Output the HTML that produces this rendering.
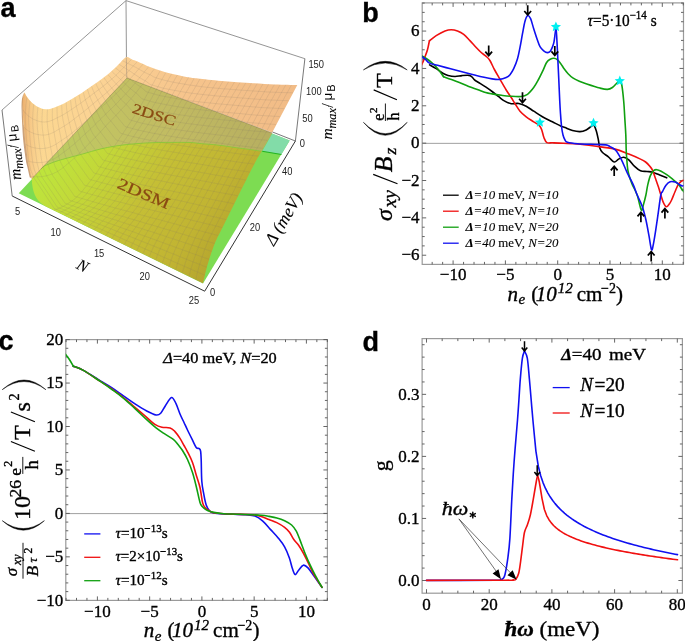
<!DOCTYPE html>
<html><head><meta charset="utf-8"><style>
html,body{margin:0;padding:0;background:#fff;width:685px;height:641px;overflow:hidden;}
svg{display:block;will-change:transform;}
text{stroke:#000;stroke-width:0.35px;paint-order:stroke;}
text.br{stroke:#8a4a12;stroke-width:0.2px;}
text.nb{stroke:none;}
text.th{stroke-width:0.12px;}
</style></head><body>
<svg width="685" height="641" viewBox="0 0 685 641">
<defs>
<linearGradient id="gOr" gradientUnits="userSpaceOnUse" x1="20" y1="100" x2="300" y2="110">
 <stop offset="0" stop-color="#fcd98f"/><stop offset="0.3" stop-color="#fbd294"/><stop offset="0.6" stop-color="#f6c48c"/><stop offset="1" stop-color="#f1bb86"/>
</linearGradient>
<linearGradient id="gOl" gradientUnits="userSpaceOnUse" x1="50" y1="160" x2="270" y2="120">
 <stop offset="0" stop-color="#bccc60"/><stop offset="0.3" stop-color="#c2c262"/><stop offset="0.6" stop-color="#c1ba62"/><stop offset="1" stop-color="#b6ae60"/>
</linearGradient>
<linearGradient id="gYe" gradientUnits="userSpaceOnUse" x1="45" y1="175" x2="205" y2="280">
 <stop offset="0" stop-color="#bee43c"/><stop offset="0.22" stop-color="#c3d738"/><stop offset="0.5" stop-color="#c5bf35"/><stop offset="0.8" stop-color="#c1b432"/><stop offset="1" stop-color="#b5a52e"/>
</linearGradient>
</defs>
<path d="M126,0.6 L2,110 M126,0.6 L304.9,58.7 M126,0.6 L126.6,78" stroke="#7a7a7a" stroke-width="0.8" fill="none"/>
<path d="M18.70,193.20 L203.00,283.50 L289.70,140.60 L127.00,78.00Z" fill="#7ddc52"/>
<path d="M272.20,133.40 L289.70,140.60 L281.50,154.30 L262.20,151.20Z" fill="#82dca8"/>
<path d="M262.2,151.3 L281.5,154.5" stroke="#22b422" stroke-width="1.1"/>
<defs><clipPath id="csurf"><path d="M24.50,92.50 C24.92,93.25 25.88,95.40 27.00,97.00 C28.12,98.60 29.53,100.52 31.20,102.10 C32.87,103.68 34.92,105.33 37.00,106.50 C39.08,107.67 41.53,108.68 43.70,109.10 C45.87,109.52 47.92,109.38 50.00,109.00 C52.08,108.62 53.87,107.72 56.20,106.80 C58.53,105.88 61.40,104.80 64.00,103.50 C66.60,102.20 69.13,100.58 71.80,99.00 C74.47,97.42 77.40,95.68 80.00,94.00 C82.60,92.32 84.07,91.18 87.40,88.90 C90.73,86.62 96.23,83.03 100.00,80.30 C103.77,77.57 107.00,75.05 110.00,72.50 C113.00,69.95 115.33,67.55 118.00,65.00 C120.67,62.45 123.67,58.12 126.00,57.20 C128.33,56.28 130.08,58.78 132.00,59.50 C133.92,60.22 134.50,60.25 137.50,61.50 C140.50,62.75 145.85,65.38 150.00,67.00 C154.15,68.62 158.23,69.95 162.40,71.20 C166.57,72.45 170.40,73.45 175.00,74.50 C179.60,75.55 185.83,76.80 190.00,77.50 C194.17,78.20 194.18,78.08 200.00,78.70 C205.82,79.32 216.58,80.50 224.90,81.20 C233.22,81.90 241.58,82.37 249.90,82.90 C258.22,83.43 266.90,84.07 274.80,84.40 C282.70,84.73 293.55,84.82 297.30,84.90 L272.2,132.6 L127,78 L31.8,178.7 C31.60,178.07 31.22,177.62 30.60,174.90 C29.98,172.18 28.93,167.60 28.10,162.40 C27.27,157.20 26.33,149.93 25.60,143.70 C24.87,137.47 24.17,130.62 23.70,125.00 C23.23,119.38 22.98,114.17 22.80,110.00 C22.62,105.83 22.32,102.92 22.60,100.00 C22.88,97.08 24.18,93.75 24.50,92.50Z"/><path d="M41.0,169.0 L127,78 L272.2,133 L261.7,151.3 C259.48,150.97 252.57,149.88 248.40,149.30 C244.23,148.72 240.60,148.35 236.70,147.80 C232.80,147.25 228.88,146.53 225.00,146.00 C221.12,145.47 217.28,144.98 213.40,144.60 C209.52,144.22 205.60,144.05 201.70,143.70 C197.80,143.35 194.78,142.72 190.00,142.50 C185.22,142.28 178.27,142.40 173.00,142.40 C167.73,142.40 163.27,142.38 158.40,142.50 C153.53,142.62 148.67,142.80 143.80,143.10 C138.93,143.40 134.07,143.78 129.20,144.30 C124.33,144.82 119.47,145.40 114.60,146.20 C109.73,147.00 105.33,147.80 100.00,149.10 C94.67,150.40 88.43,152.40 82.60,154.00 C76.77,155.60 69.27,157.53 65.00,158.70 C60.73,159.87 59.50,160.18 57.00,161.00 C54.50,161.82 52.17,162.72 50.00,163.60 C47.83,164.48 45.50,165.40 44.00,166.30 C42.50,167.20 41.50,168.55 41.00,169.00Z"/><path d="M41.00,169.00 C41.50,168.55 42.50,167.20 44.00,166.30 C45.50,165.40 47.83,164.48 50.00,163.60 C52.17,162.72 54.50,161.82 57.00,161.00 C59.50,160.18 60.73,159.87 65.00,158.70 C69.27,157.53 76.77,155.60 82.60,154.00 C88.43,152.40 94.67,150.40 100.00,149.10 C105.33,147.80 109.73,147.00 114.60,146.20 C119.47,145.40 124.33,144.82 129.20,144.30 C134.07,143.78 138.93,143.40 143.80,143.10 C148.67,142.80 153.53,142.62 158.40,142.50 C163.27,142.38 167.73,142.40 173.00,142.40 C178.27,142.40 185.22,142.28 190.00,142.50 C194.78,142.72 197.80,143.35 201.70,143.70 C205.60,144.05 209.52,144.22 213.40,144.60 C217.28,144.98 221.12,145.47 225.00,146.00 C228.88,146.53 232.80,147.25 236.70,147.80 C240.60,148.35 244.23,148.72 248.40,149.30 C252.57,149.88 259.48,150.97 261.70,151.30 C260.83,152.75 258.25,156.88 256.50,160.00 C254.75,163.12 252.92,166.67 251.20,170.00 C249.48,173.33 248.08,176.27 246.20,180.00 C244.32,183.73 241.98,188.25 239.90,192.40 C237.82,196.55 235.77,200.73 233.70,204.90 C231.63,209.07 229.53,213.30 227.50,217.40 C225.47,221.50 223.33,225.83 221.50,229.50 C219.67,233.17 217.95,236.20 216.50,239.40 C215.05,242.60 214.05,245.27 212.80,248.70 C211.55,252.13 210.17,256.25 209.00,260.00 C207.83,263.75 206.80,267.33 205.80,271.20 C204.80,275.07 203.47,281.20 203.00,283.20 L45.5,206.3 C44.67,205.72 42.03,204.22 40.50,202.80 C38.97,201.38 37.45,199.68 36.30,197.80 C35.15,195.92 34.28,193.72 33.60,191.50 C32.92,189.28 32.50,186.63 32.20,184.50 C31.90,182.37 31.87,179.67 31.80,178.70 L41.0,169.0Z"/></clipPath></defs>
<path d="M24.50,92.50 C24.92,93.25 25.88,95.40 27.00,97.00 C28.12,98.60 29.53,100.52 31.20,102.10 C32.87,103.68 34.92,105.33 37.00,106.50 C39.08,107.67 41.53,108.68 43.70,109.10 C45.87,109.52 47.92,109.38 50.00,109.00 C52.08,108.62 53.87,107.72 56.20,106.80 C58.53,105.88 61.40,104.80 64.00,103.50 C66.60,102.20 69.13,100.58 71.80,99.00 C74.47,97.42 77.40,95.68 80.00,94.00 C82.60,92.32 84.07,91.18 87.40,88.90 C90.73,86.62 96.23,83.03 100.00,80.30 C103.77,77.57 107.00,75.05 110.00,72.50 C113.00,69.95 115.33,67.55 118.00,65.00 C120.67,62.45 123.67,58.12 126.00,57.20 C128.33,56.28 130.08,58.78 132.00,59.50 C133.92,60.22 134.50,60.25 137.50,61.50 C140.50,62.75 145.85,65.38 150.00,67.00 C154.15,68.62 158.23,69.95 162.40,71.20 C166.57,72.45 170.40,73.45 175.00,74.50 C179.60,75.55 185.83,76.80 190.00,77.50 C194.17,78.20 194.18,78.08 200.00,78.70 C205.82,79.32 216.58,80.50 224.90,81.20 C233.22,81.90 241.58,82.37 249.90,82.90 C258.22,83.43 266.90,84.07 274.80,84.40 C282.70,84.73 293.55,84.82 297.30,84.90 L272.2,132.6 L127,78 L31.8,178.7 C31.60,178.07 31.22,177.62 30.60,174.90 C29.98,172.18 28.93,167.60 28.10,162.40 C27.27,157.20 26.33,149.93 25.60,143.70 C24.87,137.47 24.17,130.62 23.70,125.00 C23.23,119.38 22.98,114.17 22.80,110.00 C22.62,105.83 22.32,102.92 22.60,100.00 C22.88,97.08 24.18,93.75 24.50,92.50Z" fill="url(#gOr)"/>
<path d="M41.0,169.0 L127,78 L272.2,133 L261.7,151.3 C259.48,150.97 252.57,149.88 248.40,149.30 C244.23,148.72 240.60,148.35 236.70,147.80 C232.80,147.25 228.88,146.53 225.00,146.00 C221.12,145.47 217.28,144.98 213.40,144.60 C209.52,144.22 205.60,144.05 201.70,143.70 C197.80,143.35 194.78,142.72 190.00,142.50 C185.22,142.28 178.27,142.40 173.00,142.40 C167.73,142.40 163.27,142.38 158.40,142.50 C153.53,142.62 148.67,142.80 143.80,143.10 C138.93,143.40 134.07,143.78 129.20,144.30 C124.33,144.82 119.47,145.40 114.60,146.20 C109.73,147.00 105.33,147.80 100.00,149.10 C94.67,150.40 88.43,152.40 82.60,154.00 C76.77,155.60 69.27,157.53 65.00,158.70 C60.73,159.87 59.50,160.18 57.00,161.00 C54.50,161.82 52.17,162.72 50.00,163.60 C47.83,164.48 45.50,165.40 44.00,166.30 C42.50,167.20 41.50,168.55 41.00,169.00Z" fill="url(#gOl)"/>
<path d="M41.00,169.00 C41.50,168.55 42.50,167.20 44.00,166.30 C45.50,165.40 47.83,164.48 50.00,163.60 C52.17,162.72 54.50,161.82 57.00,161.00 C59.50,160.18 60.73,159.87 65.00,158.70 C69.27,157.53 76.77,155.60 82.60,154.00 C88.43,152.40 94.67,150.40 100.00,149.10 C105.33,147.80 109.73,147.00 114.60,146.20 C119.47,145.40 124.33,144.82 129.20,144.30 C134.07,143.78 138.93,143.40 143.80,143.10 C148.67,142.80 153.53,142.62 158.40,142.50 C163.27,142.38 167.73,142.40 173.00,142.40 C178.27,142.40 185.22,142.28 190.00,142.50 C194.78,142.72 197.80,143.35 201.70,143.70 C205.60,144.05 209.52,144.22 213.40,144.60 C217.28,144.98 221.12,145.47 225.00,146.00 C228.88,146.53 232.80,147.25 236.70,147.80 C240.60,148.35 244.23,148.72 248.40,149.30 C252.57,149.88 259.48,150.97 261.70,151.30 C260.83,152.75 258.25,156.88 256.50,160.00 C254.75,163.12 252.92,166.67 251.20,170.00 C249.48,173.33 248.08,176.27 246.20,180.00 C244.32,183.73 241.98,188.25 239.90,192.40 C237.82,196.55 235.77,200.73 233.70,204.90 C231.63,209.07 229.53,213.30 227.50,217.40 C225.47,221.50 223.33,225.83 221.50,229.50 C219.67,233.17 217.95,236.20 216.50,239.40 C215.05,242.60 214.05,245.27 212.80,248.70 C211.55,252.13 210.17,256.25 209.00,260.00 C207.83,263.75 206.80,267.33 205.80,271.20 C204.80,275.07 203.47,281.20 203.00,283.20 L45.5,206.3 C44.67,205.72 42.03,204.22 40.50,202.80 C38.97,201.38 37.45,199.68 36.30,197.80 C35.15,195.92 34.28,193.72 33.60,191.50 C32.92,189.28 32.50,186.63 32.20,184.50 C31.90,182.37 31.87,179.67 31.80,178.70 L41.0,169.0Z" fill="url(#gYe)"/>
<defs><linearGradient id="gSp" gradientUnits="userSpaceOnUse" x1="22" y1="0" x2="48" y2="0"><stop offset="0" stop-color="#e8a868" stop-opacity="0.9"/><stop offset="0.35" stop-color="#f2bc80" stop-opacity="0.5"/><stop offset="1" stop-color="#fde0a0" stop-opacity="0"/></linearGradient></defs>
<path d="M24.50,92.50 C24.92,93.25 25.88,95.40 27.00,97.00 C28.12,98.60 29.53,100.52 31.20,102.10 C32.87,103.68 34.92,105.33 37.00,106.50 C39.08,107.67 41.53,108.68 43.70,109.10 C45.87,109.52 47.92,109.38 50.00,109.00 C52.08,108.62 53.87,107.72 56.20,106.80 C58.53,105.88 61.40,104.80 64.00,103.50 C66.60,102.20 69.13,100.58 71.80,99.00 C74.47,97.42 77.40,95.68 80.00,94.00 C82.60,92.32 84.07,91.18 87.40,88.90 C90.73,86.62 96.23,83.03 100.00,80.30 C103.77,77.57 107.00,75.05 110.00,72.50 C113.00,69.95 115.33,67.55 118.00,65.00 C120.67,62.45 123.67,58.12 126.00,57.20 C128.33,56.28 130.08,58.78 132.00,59.50 C133.92,60.22 134.50,60.25 137.50,61.50 C140.50,62.75 145.85,65.38 150.00,67.00 C154.15,68.62 158.23,69.95 162.40,71.20 C166.57,72.45 170.40,73.45 175.00,74.50 C179.60,75.55 185.83,76.80 190.00,77.50 C194.17,78.20 194.18,78.08 200.00,78.70 C205.82,79.32 216.58,80.50 224.90,81.20 C233.22,81.90 241.58,82.37 249.90,82.90 C258.22,83.43 266.90,84.07 274.80,84.40 C282.70,84.73 293.55,84.82 297.30,84.90 L272.2,132.6 L127,78 L31.8,178.7 C31.60,178.07 31.22,177.62 30.60,174.90 C29.98,172.18 28.93,167.60 28.10,162.40 C27.27,157.20 26.33,149.93 25.60,143.70 C24.87,137.47 24.17,130.62 23.70,125.00 C23.23,119.38 22.98,114.17 22.80,110.00 C22.62,105.83 22.32,102.92 22.60,100.00 C22.88,97.08 24.18,93.75 24.50,92.50Z" fill="url(#gSp)"/>
<path d="M24.5,92.5 C23,96 22.6,100 22.8,110 C23,118 23.3,125 23.7,125 C24.6,135 25.6,143.7 25.6,143.7 C26.8,153 28.1,162.4 28.1,162.4 C29.3,169 30.6,174.9 31.5,178 L29.8,177.5 C28.5,172 27,165 26.2,162.4 C24.6,152 23.5,143.7 23.2,140 C22.4,130 21.8,118 21.6,110 C21.4,100 22,96 24.5,92.5Z" fill="#b87a40" opacity="0.7"/>
<path d="M22.5,109.3 L23.6,110.9 L24.8,112.4 L26.1,113.8 L27.5,115.2 L29.0,116.4 L30.7,117.6 L32.4,118.7 L34.2,119.6 L36.2,120.4 L38.2,121.1 L40.2,121.6 L42.4,121.9 L44.6,122.0 L46.8,121.8 L49.1,121.3 L51.3,120.6 L53.4,119.7 L55.5,118.6 L57.6,117.6 L59.7,116.6 L61.8,115.5 L63.8,114.4 L65.8,113.2 L67.8,111.9 L69.8,110.6 L71.7,109.3 L73.7,108.0 L75.6,106.7 L77.6,105.3 L79.5,104.0 L81.5,102.6 L83.4,101.2 L85.2,99.8 L87.1,98.3 L89.0,96.9 L90.9,95.5 L92.8,94.0 L94.7,92.6 L96.6,91.2 L98.5,89.8 L100.4,88.4 L102.3,86.9 L104.1,85.4 L106.0,84.0 L107.8,82.4 L109.6,80.9 L111.4,79.4 L113.2,77.8 L115.0,76.2 L116.7,74.6 L118.4,72.9 L120.0,71.2 L121.7,69.5 L123.4,67.8 L125.1,66.1 L126.7,64.4 L128.4,62.7 L130.0,61.0 L131.7,59.3 M22.9,126.2 L24.1,127.4 L25.3,128.6 L26.7,129.7 L28.2,130.8 L29.8,131.7 L31.5,132.5 L33.4,133.3 L35.2,133.9 L37.2,134.4 L39.3,134.8 L41.4,135.0 L43.7,135.1 L45.9,134.9 L48.3,134.4 L50.6,133.6 L52.8,132.7 L55.1,131.5 L57.2,130.2 L59.4,128.9 L61.6,127.6 L63.8,126.3 L65.9,125.0 L68.0,123.6 L70.1,122.1 L72.2,120.5 L74.2,119.0 L76.2,117.4 L78.3,115.8 L80.3,114.3 L82.4,112.7 L84.4,111.1 L86.4,109.5 L88.3,107.8 L90.3,106.1 L92.3,104.5 L94.3,102.8 L96.3,101.2 L98.3,99.5 L100.3,97.9 L102.3,96.2 L104.3,94.6 L106.3,92.9 L108.2,91.2 L110.2,89.5 L112.1,87.7 L114.0,86.0 L115.9,84.2 L117.8,82.4 L119.6,80.6 L121.5,78.7 L123.2,76.8 L125.0,74.9 L126.8,73.0 L128.6,71.1 L130.3,69.2 L132.1,67.2 L133.9,65.3 L135.7,63.4 L137.4,61.5 M24.0,143.1 L25.2,144.0 L26.6,144.8 L28.0,145.6 L29.6,146.3 L31.3,147.0 L33.0,147.5 L34.9,147.9 L36.9,148.3 L38.9,148.5 L41.0,148.6 L43.2,148.5 L45.5,148.2 L47.8,147.8 L50.2,147.0 L52.6,146.0 L55.0,144.8 L57.3,143.4 L59.5,141.8 L61.8,140.3 L64.0,138.8 L66.3,137.3 L68.5,135.7 L70.7,134.0 L72.8,132.3 L74.9,130.5 L77.1,128.7 L79.2,127.0 L81.3,125.2 L83.4,123.4 L85.5,121.6 L87.6,119.8 L89.7,117.9 L91.8,116.0 L93.8,114.1 L95.9,112.2 L97.9,110.4 L100.0,108.5 L102.1,106.6 L104.2,104.8 L106.3,102.9 L108.4,101.0 L110.5,99.1 L112.5,97.2 L114.5,95.2 L116.6,93.3 L118.5,91.3 L120.5,89.3 L122.5,87.3 L124.4,85.3 L126.3,83.2 L128.2,81.1 L130.1,78.9 L131.9,76.8 L133.8,74.7 L135.7,72.6 L137.5,70.4 L139.4,68.3 L141.3,66.1 L143.1,64.0 M25.5,159.9 L26.8,160.5 L28.2,161.0 L29.7,161.5 L31.4,161.9 L33.1,162.2 L34.9,162.4 L36.8,162.6 L38.9,162.6 L41.0,162.5 L43.1,162.3 L45.4,161.9 L47.7,161.4 L50.1,160.6 L52.5,159.6 L55.0,158.4 L57.4,156.9 L59.8,155.2 L62.1,153.5 L64.4,151.7 L66.7,150.0 L69.0,148.2 L71.3,146.4 L73.6,144.5 L75.8,142.5 L78.0,140.5 L80.2,138.5 L82.3,136.5 L84.5,134.5 L86.7,132.5 L88.9,130.5 L91.1,128.4 L93.2,126.3 L95.4,124.2 L97.5,122.1 L99.6,120.0 L101.8,117.9 L103.9,115.8 L106.1,113.7 L108.3,111.6 L110.5,109.5 L112.6,107.4 L114.8,105.3 L116.9,103.2 L119.0,101.0 L121.1,98.8 L123.2,96.6 L125.2,94.4 L127.3,92.2 L129.3,89.9 L131.3,87.6 L133.2,85.3 L135.2,83.0 L137.1,80.6 L139.1,78.3 L141.0,75.9 L143.0,73.6 L144.9,71.2 L146.9,68.9 L148.8,66.5 M30.1,176.1 L31.5,176.4 L32.9,176.6 L34.4,176.7 L36.0,176.8 L37.8,176.8 L39.6,176.7 L41.5,176.6 L43.6,176.3 L45.7,175.9 L47.8,175.4 L50.1,174.7 L52.4,173.9 L54.8,172.9 L57.2,171.6 L59.7,170.1 L62.1,168.4 L64.5,166.5 L66.8,164.5 L69.1,162.6 L71.5,160.6 L73.8,158.6 L76.1,156.5 L78.4,154.4 L80.6,152.2 L82.8,150.0 L85.0,147.8 L87.2,145.5 L89.4,143.3 L91.6,141.1 L93.8,138.8 L96.0,136.6 L98.2,134.3 L100.4,131.9 L102.5,129.6 L104.6,127.3 L106.8,124.9 L109.0,122.6 L111.2,120.3 L113.4,118.0 L115.6,115.7 L117.8,113.4 L120.0,111.0 L122.1,108.7 L124.3,106.3 L126.4,103.9 L128.5,101.5 L130.6,99.1 L132.7,96.6 L134.7,94.2 L136.7,91.7 L138.7,89.1 L140.7,86.6 L142.7,84.0 L144.6,81.5 L146.6,78.9 L148.6,76.4 L150.6,73.8 L152.6,71.2 L154.6,68.7 M53.8,210.3 L54.8,209.9 L55.9,209.5 L57.1,209.0 L58.4,208.5 L59.8,207.9 L61.4,207.2 L63.0,206.4 L64.7,205.5 L66.4,204.5 L68.3,203.4 L70.2,202.1 L72.2,200.8 L74.3,199.2 L76.4,197.3 L78.6,195.2 L80.7,193.0 L82.7,190.5 L84.7,188.0 L86.8,185.5 L88.8,183.0 L90.8,180.4 L92.8,177.8 L94.8,175.2 L96.7,172.5 L98.6,169.7 L100.5,166.9 L102.4,164.2 L104.3,161.4 L106.2,158.7 L108.1,155.9 L110.0,153.1 L111.9,150.3 L113.7,147.4 L115.5,144.5 L117.4,141.7 L119.3,138.8 L121.2,136.0 L123.1,133.2 L125.0,130.3 L126.9,127.5 L128.8,124.6 L130.7,121.8 L132.5,118.9 L134.4,116.0 L136.2,113.1 L138.0,110.1 L139.8,107.2 L141.6,104.2 L143.3,101.2 L145.0,98.2 L146.7,95.1 L148.4,92.1 L150.1,89.0 L151.8,85.9 L153.5,82.9 L155.2,79.8 L156.9,76.7 L158.6,73.6 L160.3,70.5 M59.1,212.8 L60.1,212.4 L61.2,211.9 L62.4,211.3 L63.7,210.7 L65.1,210.0 L66.6,209.2 L68.3,208.3 L69.9,207.3 L71.7,206.3 L73.5,205.1 L75.5,203.8 L77.4,202.3 L79.5,200.7 L81.6,198.8 L83.8,196.7 L85.9,194.5 L87.9,192.0 L89.9,189.5 L92.0,186.9 L94.0,184.4 L96.0,181.9 L98.0,179.3 L100.0,176.6 L101.9,173.9 L103.8,171.1 L105.7,168.4 L107.6,165.6 L109.5,162.9 L111.4,160.1 L113.4,157.3 L115.3,154.5 L117.1,151.7 L119.0,148.9 L120.8,146.0 L122.7,143.2 L124.6,140.3 L126.5,137.5 L128.4,134.6 L130.4,131.8 L132.3,129.0 L134.2,126.1 L136.1,123.3 L138.0,120.4 L139.8,117.5 L141.7,114.6 L143.5,111.7 L145.3,108.7 L147.1,105.8 L148.8,102.8 L150.6,99.8 L152.3,96.8 L154.0,93.7 L155.7,90.6 L157.4,87.6 L159.1,84.5 L160.8,81.5 L162.5,78.4 L164.3,75.3 L166.0,72.3 M64.6,215.6 L65.7,215.0 L66.8,214.4 L68.0,213.7 L69.3,213.0 L70.7,212.2 L72.2,211.3 L73.8,210.4 L75.5,209.3 L77.2,208.2 L79.0,206.9 L80.9,205.6 L82.9,204.1 L84.9,202.4 L87.0,200.4 L89.2,198.3 L91.3,196.0 L93.3,193.5 L95.3,191.0 L97.4,188.4 L99.4,185.9 L101.4,183.3 L103.4,180.7 L105.3,178.1 L107.3,175.3 L109.2,172.6 L111.1,169.8 L113.0,167.1 L114.9,164.3 L116.8,161.5 L118.8,158.7 L120.7,156.0 L122.5,153.1 L124.4,150.3 L126.2,147.4 L128.1,144.6 L130.0,141.7 L131.9,138.9 L133.9,136.1 L135.8,133.2 L137.8,130.4 L139.7,127.5 L141.6,124.7 L143.5,121.8 L145.3,118.9 L147.2,116.0 L149.0,113.1 L150.8,110.2 L152.6,107.2 L154.4,104.2 L156.1,101.2 L157.9,98.2 L159.6,95.2 L161.3,92.1 L163.0,89.1 L164.8,86.0 L166.5,83.0 L168.2,79.9 L170.0,76.8 L171.7,73.8 M70.5,218.5 L71.5,217.8 L72.6,217.0 L73.8,216.3 L75.1,215.4 L76.5,214.5 L78.0,213.6 L79.5,212.5 L81.2,211.4 L82.9,210.2 L84.7,208.8 L86.6,207.4 L88.5,205.8 L90.6,204.0 L92.7,202.1 L94.8,199.9 L96.9,197.6 L98.9,195.1 L100.9,192.5 L102.9,189.9 L104.9,187.4 L106.9,184.8 L108.9,182.1 L110.9,179.5 L112.8,176.7 L114.7,174.0 L116.6,171.2 L118.5,168.4 L120.4,165.6 L122.4,162.9 L124.3,160.1 L126.2,157.3 L128.0,154.4 L129.9,151.6 L131.8,148.7 L133.6,145.8 L135.5,143.0 L137.4,140.1 L139.4,137.3 L141.4,134.5 L143.3,131.6 L145.2,128.7 L147.2,125.9 L149.1,123.0 L150.9,120.1 L152.8,117.2 L154.6,114.3 L156.4,111.3 L158.2,108.4 L160.0,105.4 L161.7,102.4 L163.5,99.4 L165.2,96.3 L166.9,93.3 L168.7,90.2 L170.4,87.2 L172.2,84.1 L173.9,81.1 L175.6,78.0 L177.4,75.0 M76.3,221.3 L77.4,220.5 L78.4,219.7 L79.6,218.8 L80.9,217.9 L82.3,216.9 L83.8,215.8 L85.3,214.6 L86.9,213.4 L88.6,212.1 L90.4,210.7 L92.3,209.2 L94.2,207.5 L96.2,205.7 L98.3,203.7 L100.4,201.5 L102.5,199.1 L104.5,196.6 L106.5,194.0 L108.5,191.4 L110.5,188.8 L112.5,186.2 L114.5,183.5 L116.4,180.8 L118.3,178.1 L120.3,175.3 L122.2,172.5 L124.1,169.7 L126.0,166.9 L127.9,164.1 L129.8,161.3 L131.7,158.5 L133.6,155.7 L135.4,152.8 L137.3,149.9 L139.1,147.0 L141.0,144.2 L143.0,141.3 L145.0,138.5 L146.9,135.6 L148.9,132.8 L150.8,129.9 L152.7,127.0 L154.6,124.1 L156.5,121.2 L158.4,118.3 L160.2,115.4 L162.0,112.4 L163.8,109.4 L165.6,106.5 L167.4,103.5 L169.1,100.4 L170.8,97.4 L172.6,94.3 L174.3,91.3 L176.1,88.2 L177.8,85.2 L179.6,82.1 L181.3,79.1 L183.1,76.0 M82.2,224.2 L83.2,223.3 L84.3,222.4 L85.5,221.4 L86.7,220.3 L88.1,219.2 L89.5,218.0 L91.1,216.8 L92.7,215.5 L94.4,214.1 L96.1,212.6 L98.0,210.9 L99.8,209.2 L101.8,207.3 L103.9,205.3 L106.0,203.0 L108.1,200.6 L110.1,198.0 L112.1,195.4 L114.1,192.8 L116.1,190.2 L118.1,187.6 L120.0,184.9 L122.0,182.2 L123.9,179.4 L125.8,176.6 L127.7,173.8 L129.6,171.0 L131.5,168.2 L133.4,165.4 L135.3,162.5 L137.2,159.7 L139.1,156.9 L140.9,154.0 L142.8,151.1 L144.7,148.2 L146.6,145.3 L148.5,142.5 L150.5,139.6 L152.5,136.7 L154.4,133.8 L156.4,131.0 L158.3,128.1 L160.2,125.2 L162.1,122.3 L164.0,119.3 L165.8,116.4 L167.6,113.4 L169.4,110.5 L171.2,107.5 L173.0,104.5 L174.7,101.4 L176.5,98.4 L178.2,95.3 L180.0,92.3 L181.7,89.2 L183.5,86.2 L185.3,83.1 L187.0,80.1 L188.8,77.0 M88.0,227.1 L89.1,226.1 L90.1,225.0 L91.3,223.9 L92.5,222.7 L93.9,221.5 L95.3,220.3 L96.8,218.9 L98.4,217.5 L100.1,216.0 L101.8,214.4 L103.6,212.7 L105.5,210.9 L107.5,209.0 L109.5,206.8 L111.6,204.5 L113.7,202.1 L115.7,199.5 L117.7,196.8 L119.7,194.2 L121.6,191.6 L123.6,188.9 L125.6,186.2 L127.5,183.5 L129.4,180.7 L131.3,177.9 L133.2,175.0 L135.1,172.2 L137.0,169.4 L138.9,166.6 L140.8,163.7 L142.7,160.9 L144.6,158.0 L146.5,155.1 L148.3,152.2 L150.2,149.3 L152.1,146.4 L154.0,143.5 L156.0,140.7 L158.0,137.8 L160.0,134.9 L161.9,132.0 L163.9,129.1 L165.8,126.2 L167.7,123.3 L169.6,120.3 L171.4,117.4 L173.2,114.4 L175.0,111.4 L176.8,108.4 L178.6,105.4 L180.3,102.4 L182.1,99.3 L183.9,96.3 L185.6,93.2 L187.4,90.2 L189.2,87.1 L191.0,84.0 L192.7,81.0 L194.5,77.9 M93.9,230.0 L94.9,228.8 L96.0,227.7 L97.1,226.4 L98.4,225.2 L99.7,223.9 L101.1,222.5 L102.6,221.0 L104.2,219.5 L105.8,217.9 L107.5,216.2 L109.3,214.5 L111.2,212.6 L113.1,210.6 L115.1,208.4 L117.2,206.0 L119.3,203.6 L121.3,200.9 L123.3,198.3 L125.2,195.6 L127.2,192.9 L129.2,190.2 L131.1,187.5 L133.1,184.7 L135.0,181.9 L136.9,179.1 L138.8,176.3 L140.6,173.4 L142.6,170.6 L144.5,167.7 L146.4,164.9 L148.3,162.0 L150.1,159.1 L152.0,156.2 L153.8,153.3 L155.7,150.4 L157.6,147.5 L159.6,144.6 L161.6,141.7 L163.6,138.8 L165.6,135.9 L167.5,133.0 L169.4,130.1 L171.4,127.1 L173.3,124.2 L175.1,121.2 L177.0,118.3 L178.8,115.3 L180.6,112.3 L182.4,109.3 L184.2,106.3 L186.0,103.2 L187.7,100.2 L189.5,97.1 L191.3,94.1 L193.1,91.0 L194.9,87.9 L196.6,84.9 L198.4,81.8 L200.2,78.7 M99.7,232.9 L100.8,231.6 L101.8,230.3 L103.0,229.0 L104.2,227.6 L105.5,226.2 L106.9,224.7 L108.4,223.1 L109.9,221.5 L111.5,219.8 L113.2,218.1 L115.0,216.2 L116.8,214.3 L118.7,212.2 L120.8,209.9 L122.8,207.5 L124.9,205.0 L126.9,202.3 L128.8,199.6 L130.8,196.9 L132.8,194.2 L134.7,191.5 L136.7,188.8 L138.6,186.0 L140.5,183.1 L142.4,180.3 L144.3,177.4 L146.2,174.5 L148.1,171.7 L150.0,168.8 L151.9,165.9 L153.8,163.1 L155.6,160.2 L157.5,157.2 L159.4,154.3 L161.2,151.4 L163.1,148.4 L165.1,145.5 L167.1,142.6 L169.1,139.7 L171.1,136.8 L173.1,133.9 L175.0,130.9 L176.9,128.0 L178.8,125.0 L180.7,122.1 L182.6,119.1 L184.4,116.1 L186.2,113.1 L188.0,110.1 L189.8,107.1 L191.6,104.0 L193.3,100.9 L195.1,97.9 L196.9,94.8 L198.7,91.7 L200.5,88.6 L202.3,85.6 L204.1,82.5 L205.9,79.4 M105.7,235.8 L106.7,234.4 L107.7,233.0 L108.8,231.5 L110.0,230.0 L111.3,228.5 L112.7,226.9 L114.2,225.2 L115.7,223.5 L117.3,221.7 L119.0,219.9 L120.7,217.9 L122.5,215.9 L124.4,213.7 L126.4,211.4 L128.5,209.0 L130.5,206.4 L132.5,203.7 L134.5,201.0 L136.4,198.2 L138.4,195.5 L140.3,192.8 L142.3,190.0 L144.2,187.2 L146.1,184.3 L148.0,181.4 L149.9,178.5 L151.7,175.7 L153.6,172.8 L155.5,169.9 L157.4,167.0 L159.3,164.1 L161.2,161.2 L163.0,158.2 L164.9,155.3 L166.8,152.3 L168.7,149.4 L170.6,146.4 L172.7,143.5 L174.7,140.6 L176.7,137.6 L178.7,134.7 L180.6,131.7 L182.5,128.8 L184.4,125.8 L186.3,122.8 L188.2,119.8 L190.0,116.8 L191.8,113.8 L193.6,110.8 L195.4,107.7 L197.2,104.7 L199.0,101.6 L200.8,98.5 L202.6,95.4 L204.4,92.4 L206.2,89.3 L208.0,86.2 L209.8,83.1 L211.6,80.0 M111.8,238.8 L112.8,237.3 L113.8,235.7 L115.0,234.2 L116.1,232.5 L117.4,230.9 L118.8,229.2 L120.2,227.4 L121.7,225.6 L123.3,223.7 L124.9,221.8 L126.7,219.7 L128.4,217.6 L130.3,215.4 L132.3,213.0 L134.3,210.5 L136.4,207.9 L138.3,205.2 L140.3,202.4 L142.2,199.6 L144.1,196.8 L146.1,194.1 L148.0,191.3 L149.9,188.4 L151.8,185.5 L153.7,182.6 L155.6,179.7 L157.4,176.8 L159.3,173.9 L161.2,171.0 L163.1,168.0 L165.0,165.1 L166.8,162.2 L168.7,159.2 L170.5,156.2 L172.4,153.3 L174.3,150.3 L176.3,147.3 L178.3,144.4 L180.4,141.4 L182.3,138.5 L184.3,135.5 L186.3,132.5 L188.2,129.6 L190.1,126.6 L192.0,123.6 L193.9,120.5 L195.7,117.5 L197.5,114.5 L199.3,111.4 L201.1,108.4 L202.9,105.3 L204.6,102.2 L206.4,99.1 L208.3,96.0 L210.1,92.9 L211.9,89.8 L213.7,86.7 L215.5,83.7 L217.4,80.6 M118.0,241.8 L119.0,240.2 L120.0,238.5 L121.1,236.8 L122.3,235.1 L123.5,233.3 L124.9,231.5 L126.3,229.6 L127.8,227.7 L129.3,225.7 L131.0,223.7 L132.6,221.6 L134.4,219.4 L136.2,217.1 L138.2,214.6 L140.2,212.1 L142.2,209.4 L144.2,206.6 L146.1,203.8 L148.0,201.0 L150.0,198.2 L151.9,195.4 L153.8,192.5 L155.7,189.6 L157.6,186.7 L159.4,183.8 L161.3,180.9 L163.2,177.9 L165.0,175.0 L166.9,172.0 L168.8,169.1 L170.7,166.1 L172.5,163.2 L174.4,160.2 L176.2,157.2 L178.1,154.2 L180.0,151.2 L182.0,148.2 L184.0,145.2 L186.0,142.3 L188.0,139.3 L190.0,136.3 L191.9,133.3 L193.9,130.3 L195.8,127.3 L197.7,124.3 L199.5,121.2 L201.4,118.2 L203.2,115.1 L205.0,112.1 L206.7,109.0 L208.5,105.9 L210.3,102.8 L212.1,99.7 L213.9,96.6 L215.8,93.5 L217.6,90.4 L219.4,87.3 L221.2,84.2 L223.1,81.0 M124.2,244.9 L125.2,243.1 L126.2,241.3 L127.3,239.5 L128.4,237.6 L129.7,235.7 L131.0,233.8 L132.4,231.8 L133.8,229.8 L135.4,227.7 L137.0,225.6 L138.6,223.4 L140.3,221.1 L142.1,218.7 L144.1,216.2 L146.1,213.6 L148.1,210.9 L150.0,208.1 L151.9,205.2 L153.8,202.4 L155.8,199.5 L157.7,196.7 L159.6,193.8 L161.5,190.9 L163.3,187.9 L165.2,185.0 L167.0,182.0 L168.9,179.0 L170.8,176.1 L172.6,173.1 L174.5,170.1 L176.4,167.2 L178.2,164.2 L180.0,161.1 L181.9,158.1 L183.8,155.1 L185.7,152.1 L187.6,149.1 L189.7,146.1 L191.7,143.1 L193.7,140.1 L195.7,137.1 L197.6,134.1 L199.5,131.0 L201.5,128.0 L203.3,125.0 L205.2,121.9 L207.0,118.8 L208.8,115.8 L210.6,112.7 L212.4,109.6 L214.2,106.5 L216.0,103.4 L217.8,100.2 L219.6,97.1 L221.4,94.0 L223.3,90.9 L225.1,87.8 L226.9,84.6 L228.8,81.5 M130.5,247.9 L131.4,246.0 L132.4,244.1 L133.5,242.2 L134.6,240.2 L135.8,238.2 L137.1,236.1 L138.5,234.0 L139.9,231.9 L141.4,229.7 L143.0,227.5 L144.6,225.2 L146.3,222.8 L148.1,220.4 L150.0,217.8 L152.0,215.1 L154.0,212.3 L155.9,209.5 L157.8,206.6 L159.7,203.7 L161.6,200.8 L163.5,197.9 L165.3,195.0 L167.2,192.1 L169.1,189.1 L170.9,186.1 L172.8,183.1 L174.6,180.1 L176.5,177.1 L178.4,174.1 L180.2,171.1 L182.1,168.1 L183.9,165.1 L185.7,162.1 L187.6,159.0 L189.4,156.0 L191.3,153.0 L193.3,149.9 L195.4,146.9 L197.4,143.9 L199.4,140.8 L201.3,137.8 L203.3,134.8 L205.2,131.7 L207.1,128.7 L209.0,125.6 L210.9,122.5 L212.7,119.4 L214.5,116.4 L216.3,113.3 L218.1,110.1 L219.9,107.0 L221.7,103.9 L223.5,100.7 L225.3,97.6 L227.1,94.5 L229.0,91.3 L230.8,88.2 L232.7,85.1 L234.5,81.9 M136.7,251.0 L137.6,248.9 L138.6,246.9 L139.6,244.8 L140.7,242.7 L141.9,240.6 L143.2,238.4 L144.6,236.2 L146.0,234.0 L147.4,231.7 L149.0,229.4 L150.6,227.0 L152.2,224.5 L154.0,222.0 L155.9,219.3 L157.9,216.6 L159.8,213.8 L161.7,210.9 L163.6,208.0 L165.5,205.1 L167.4,202.1 L169.3,199.2 L171.1,196.3 L173.0,193.3 L174.8,190.3 L176.7,187.3 L178.5,184.2 L180.3,181.2 L182.2,178.2 L184.1,175.2 L185.9,172.1 L187.8,169.1 L189.6,166.1 L191.4,163.0 L193.2,159.9 L195.1,156.9 L197.0,153.8 L199.0,150.7 L201.0,147.7 L203.1,144.6 L205.0,141.6 L207.0,138.5 L209.0,135.5 L210.9,132.4 L212.8,129.3 L214.7,126.2 L216.5,123.1 L218.4,120.0 L220.2,116.9 L222.0,113.8 L223.7,110.7 L225.5,107.5 L227.3,104.4 L229.1,101.2 L231.0,98.1 L232.8,94.9 L234.7,91.8 L236.5,88.6 L238.4,85.4 L240.2,82.3 M142.9,254.0 L143.8,251.9 L144.8,249.7 L145.8,247.5 L146.9,245.3 L148.1,243.0 L149.3,240.7 L150.6,238.4 L152.0,236.1 L153.5,233.7 L155.0,231.3 L156.5,228.8 L158.2,226.2 L159.9,223.6 L161.8,220.9 L163.7,218.1 L165.7,215.3 L167.6,212.3 L169.4,209.4 L171.3,206.4 L173.2,203.4 L175.0,200.5 L176.9,197.5 L178.8,194.5 L180.6,191.4 L182.4,188.4 L184.2,185.3 L186.1,182.3 L187.9,179.2 L189.8,176.2 L191.6,173.1 L193.5,170.1 L195.3,167.0 L197.1,163.9 L198.9,160.8 L200.8,157.7 L202.7,154.6 L204.6,151.5 L206.7,148.5 L208.7,145.4 L210.7,142.3 L212.7,139.2 L214.6,136.1 L216.6,133.0 L218.5,129.9 L220.4,126.8 L222.2,123.7 L224.0,120.6 L225.8,117.5 L227.6,114.3 L229.4,111.2 L231.2,108.0 L233.0,104.8 L234.8,101.7 L236.7,98.5 L238.5,95.3 L240.4,92.2 L242.2,89.0 L244.1,85.8 L245.9,82.6 M149.1,257.1 L150.0,254.8 L151.0,252.5 L152.0,250.2 L153.1,247.8 L154.2,245.5 L155.4,243.1 L156.7,240.6 L158.1,238.2 L159.5,235.7 L161.0,233.2 L162.5,230.6 L164.1,228.0 L165.8,225.3 L167.7,222.5 L169.6,219.6 L171.6,216.7 L173.4,213.7 L175.3,210.7 L177.1,207.7 L179.0,204.7 L180.8,201.7 L182.7,198.7 L184.5,195.7 L186.3,192.6 L188.2,189.5 L190.0,186.4 L191.8,183.4 L193.6,180.3 L195.5,177.2 L197.3,174.1 L199.2,171.0 L201.0,167.9 L202.8,164.8 L204.6,161.7 L206.4,158.6 L208.3,155.5 L210.3,152.4 L212.4,149.3 L214.4,146.1 L216.4,143.0 L218.4,139.9 L220.3,136.8 L222.3,133.7 L224.2,130.6 L226.0,127.4 L227.9,124.3 L229.7,121.1 L231.5,118.0 L233.3,114.8 L235.1,111.7 L236.9,108.5 L238.7,105.3 L240.5,102.1 L242.3,98.9 L244.2,95.8 L246.0,92.6 L247.9,89.4 L249.8,86.2 L251.6,83.0 M155.5,260.2 L156.5,257.8 L157.4,255.4 L158.4,252.9 L159.4,250.5 L160.6,248.0 L161.8,245.5 L163.0,242.9 L164.3,240.4 L165.7,237.8 L167.2,235.2 L168.7,232.5 L170.2,229.8 L171.9,227.0 L173.8,224.2 L175.7,221.2 L177.6,218.3 L179.4,215.3 L181.3,212.2 L183.1,209.2 L184.9,206.1 L186.8,203.1 L188.6,200.0 L190.4,196.9 L192.2,193.8 L194.0,190.7 L195.8,187.6 L197.6,184.5 L199.5,181.4 L201.3,178.3 L203.1,175.2 L205.0,172.0 L206.8,168.9 L208.5,165.8 L210.4,162.6 L212.2,159.5 L214.1,156.4 L216.0,153.2 L218.1,150.1 L220.2,147.0 L222.1,143.8 L224.1,140.7 L226.1,137.5 L228.0,134.4 L229.9,131.2 L231.8,128.1 L233.6,124.9 L235.4,121.8 L237.2,118.6 L239.0,115.4 L240.8,112.2 L242.6,109.0 L244.4,105.8 L246.2,102.6 L248.0,99.4 L249.9,96.2 L251.7,93.0 L253.6,89.8 L255.5,86.6 L257.3,83.4 M162.2,263.5 L163.1,261.0 L164.0,258.4 L165.0,255.8 L166.0,253.2 L167.1,250.6 L168.3,248.0 L169.5,245.4 L170.8,242.7 L172.2,240.0 L173.6,237.2 L175.0,234.5 L176.6,231.7 L178.2,228.8 L180.0,225.9 L181.9,222.9 L183.8,219.9 L185.6,216.8 L187.4,213.8 L189.3,210.7 L191.1,207.6 L192.9,204.5 L194.7,201.4 L196.5,198.3 L198.3,195.1 L200.1,192.0 L201.8,188.9 L203.6,185.7 L205.4,182.6 L207.3,179.4 L209.1,176.3 L210.9,173.1 L212.7,170.0 L214.4,166.8 L216.2,163.6 L218.1,160.5 L219.9,157.3 L221.9,154.1 L224.0,151.0 L226.0,147.8 L228.0,144.6 L229.9,141.5 L231.9,138.3 L233.8,135.1 L235.7,131.9 L237.6,128.8 L239.4,125.6 L241.2,122.4 L243.0,119.2 L244.7,116.0 L246.5,112.8 L248.3,109.5 L250.1,106.3 L251.9,103.1 L253.8,99.9 L255.6,96.7 L257.5,93.4 L259.3,90.2 L261.2,87.0 L263.0,83.8 M168.9,266.8 L169.8,264.1 L170.7,261.4 L171.6,258.7 L172.6,256.0 L173.7,253.3 L174.8,250.5 L176.0,247.7 L177.3,245.0 L178.6,242.1 L180.0,239.3 L181.4,236.5 L182.9,233.6 L184.5,230.6 L186.3,227.6 L188.2,224.6 L190.0,221.5 L191.8,218.4 L193.6,215.3 L195.4,212.2 L197.2,209.0 L199.0,205.9 L200.8,202.8 L202.5,199.6 L204.3,196.4 L206.1,193.3 L207.8,190.1 L209.6,186.9 L211.4,183.7 L213.2,180.5 L215.0,177.4 L216.8,174.2 L218.6,171.0 L220.3,167.8 L222.1,164.6 L223.9,161.4 L225.8,158.2 L227.7,155.0 L229.8,151.8 L231.8,148.6 L233.8,145.4 L235.8,142.2 L237.7,139.0 L239.6,135.8 L241.5,132.6 L243.3,129.4 L245.2,126.2 L247.0,123.0 L248.7,119.7 L250.5,116.5 L252.3,113.3 L254.0,110.0 L255.8,106.8 L257.6,103.6 L259.5,100.3 L261.3,97.1 L263.2,93.8 L265.0,90.6 L266.9,87.3 L268.8,84.1 M175.6,270.0 L176.5,267.2 L177.3,264.4 L178.2,261.6 L179.2,258.7 L180.3,255.9 L181.4,253.0 L182.5,250.1 L183.8,247.2 L185.0,244.3 L186.4,241.4 L187.8,238.4 L189.2,235.4 L190.8,232.4 L192.6,229.3 L194.4,226.2 L196.2,223.1 L198.0,220.0 L199.8,216.8 L201.5,213.6 L203.3,210.4 L205.1,207.3 L206.8,204.1 L208.6,200.9 L210.4,197.7 L212.1,194.5 L213.8,191.3 L215.6,188.0 L217.4,184.8 L219.2,181.6 L221.0,178.4 L222.7,175.2 L224.5,172.0 L226.2,168.7 L228.0,165.5 L229.8,162.3 L231.6,159.1 L233.6,155.8 L235.6,152.6 L237.7,149.4 L239.6,146.2 L241.6,142.9 L243.5,139.7 L245.4,136.5 L247.3,133.2 L249.1,130.0 L250.9,126.8 L252.7,123.5 L254.5,120.3 L256.2,117.0 L258.0,113.8 L259.8,110.5 L261.6,107.2 L263.4,104.0 L265.2,100.7 L267.0,97.4 L268.9,94.2 L270.8,90.9 L272.6,87.6 L274.5,84.4 M182.3,273.3 L183.1,270.3 L184.0,267.4 L184.9,264.4 L185.8,261.4 L186.8,258.4 L187.9,255.5 L189.1,252.5 L190.2,249.4 L191.5,246.4 L192.8,243.4 L194.1,240.3 L195.6,237.2 L197.1,234.1 L198.8,231.0 L200.6,227.8 L202.5,224.7 L204.2,221.5 L206.0,218.2 L207.7,215.0 L209.4,211.8 L211.2,208.6 L212.9,205.4 L214.7,202.1 L216.4,198.9 L218.1,195.6 L219.9,192.4 L221.6,189.1 L223.3,185.9 L225.1,182.6 L226.9,179.4 L228.6,176.1 L230.4,172.9 L232.1,169.6 L233.9,166.4 L235.7,163.1 L237.5,159.9 L239.4,156.6 L241.5,153.3 L243.5,150.1 L245.5,146.8 L247.4,143.6 L249.3,140.3 L251.2,137.0 L253.1,133.8 L254.9,130.5 L256.7,127.2 L258.5,124.0 L260.2,120.7 L262.0,117.4 L263.7,114.2 L265.5,110.9 L267.3,107.6 L269.1,104.3 L270.9,101.0 L272.8,97.7 L274.6,94.4 L276.5,91.2 L278.3,87.9 L280.2,84.6 M189.0,276.5 L189.8,273.4 L190.6,270.3 L191.5,267.2 L192.4,264.1 L193.4,261.0 L194.5,257.9 L195.6,254.8 L196.7,251.7 L197.9,248.5 L199.2,245.4 L200.5,242.2 L201.9,239.0 L203.4,235.9 L205.1,232.7 L206.9,229.4 L208.7,226.2 L210.4,222.9 L212.1,219.7 L213.8,216.4 L215.6,213.1 L217.3,209.9 L219.0,206.6 L220.7,203.3 L222.4,200.1 L224.1,196.8 L225.9,193.5 L227.6,190.2 L229.3,186.9 L231.1,183.6 L232.8,180.4 L234.6,177.1 L236.3,173.8 L238.0,170.5 L239.7,167.2 L241.5,163.9 L243.3,160.6 L245.3,157.3 L247.3,154.0 L249.3,150.7 L251.3,147.5 L253.2,144.2 L255.1,140.9 L257.0,137.6 L258.9,134.3 L260.7,131.0 L262.5,127.7 L264.3,124.4 L266.0,121.1 L267.7,117.8 L269.5,114.5 L271.2,111.2 L273.0,107.9 L274.8,104.6 L276.6,101.3 L278.5,97.9 L280.3,94.6 L282.2,91.3 L284.0,88.0 L285.9,84.7 M195.7,279.7 L196.5,276.5 L197.3,273.3 L198.1,270.0 L199.0,266.8 L200.0,263.6 L201.0,260.3 L202.1,257.1 L203.2,253.9 L204.4,250.6 L205.6,247.4 L206.9,244.1 L208.2,240.8 L209.7,237.6 L211.4,234.3 L213.1,231.0 L214.9,227.7 L216.6,224.4 L218.3,221.1 L220.0,217.8 L221.7,214.5 L223.4,211.2 L225.1,207.8 L226.8,204.5 L228.5,201.2 L230.2,197.9 L231.9,194.6 L233.6,191.3 L235.3,187.9 L237.0,184.6 L238.8,181.3 L240.5,178.0 L242.2,174.6 L243.9,171.3 L245.6,168.0 L247.4,164.7 L249.2,161.4 L251.1,158.0 L253.2,154.7 L255.2,151.4 L257.1,148.1 L259.0,144.7 L260.9,141.4 L262.8,138.1 L264.7,134.8 L266.5,131.4 L268.3,128.1 L270.0,124.8 L271.8,121.5 L273.5,118.1 L275.2,114.8 L277.0,111.5 L278.7,108.1 L280.5,104.8 L282.4,101.5 L284.2,98.1 L286.0,94.8 L287.9,91.5 L289.7,88.1 L291.6,84.8 M26.9,96.9 L25.9,105.0 L25.3,113.2 L25.4,121.4 L25.9,129.6 L26.4,137.8 L27.2,146.0 L28.0,154.1 L28.9,162.3 L30.8,170.3 L34.0,177.9 L54.2,208.4 L56.9,209.6 L59.6,210.7 L62.2,211.9 L65.1,213.2 L68.0,214.5 L70.9,215.8 L73.9,217.2 L76.9,218.5 L79.8,219.8 L82.8,221.2 L85.8,222.5 L88.8,223.8 L91.7,225.2 L94.7,226.5 L97.7,227.8 L100.6,229.1 L103.6,230.4 L106.6,231.8 L109.6,233.1 L112.8,234.5 L115.9,235.9 L119.0,237.3 L122.2,238.7 L125.3,240.1 L128.5,241.5 L131.6,242.9 L134.8,244.3 L137.9,245.7 L141.0,247.1 L144.2,248.5 L147.3,249.9 L150.5,251.3 L153.7,252.7 L157.0,254.2 L160.3,255.7 L163.7,257.2 L167.1,258.7 L170.5,260.2 L173.8,261.7 L177.2,263.2 L180.6,264.7 L184.0,266.1 L187.3,267.6 L190.7,269.1 L194.1,270.6 L197.5,272.0 L200.9,273.5 L204.8,275.3 M30.0,100.8 L29.2,108.6 L28.6,116.4 L28.8,124.2 L29.4,132.0 L30.1,139.8 L30.9,147.6 L31.8,155.4 L32.8,163.2 L34.7,170.8 L37.8,178.0 L57.3,207.2 L60.0,208.3 L62.7,209.3 L65.4,210.4 L68.2,211.6 L71.1,212.7 L74.0,214.0 L77.0,215.2 L79.9,216.4 L82.9,217.6 L85.8,218.8 L88.8,220.0 L91.7,221.2 L94.7,222.4 L97.6,223.5 L100.6,224.7 L103.5,225.9 L106.5,227.1 L109.5,228.3 L112.5,229.5 L115.6,230.8 L118.7,232.0 L121.8,233.3 L125.0,234.5 L128.1,235.8 L131.2,237.0 L134.3,238.3 L137.4,239.5 L140.6,240.8 L143.7,242.0 L146.8,243.3 L149.9,244.5 L153.0,245.8 L156.2,247.1 L159.5,248.4 L162.8,249.7 L166.1,251.1 L169.5,252.5 L172.8,253.8 L176.2,255.1 L179.5,256.5 L182.9,257.8 L186.2,259.1 L189.6,260.5 L192.9,261.8 L196.2,263.1 L199.6,264.4 L202.9,265.7 L206.8,267.3 M33.7,104.2 L33.0,111.6 L32.6,119.0 L32.9,126.4 L33.5,133.8 L34.3,141.3 L35.2,148.7 L36.1,156.1 L37.2,163.6 L39.1,170.8 L42.3,177.7 L61.0,205.5 L63.6,206.5 L66.3,207.5 L69.0,208.5 L71.8,209.5 L74.7,210.6 L77.6,211.7 L80.5,212.7 L83.5,213.8 L86.4,214.9 L89.3,216.0 L92.3,217.1 L95.2,218.1 L98.1,219.2 L101.1,220.3 L104.0,221.4 L106.9,222.4 L109.9,223.5 L112.8,224.5 L115.8,225.6 L118.9,226.7 L122.0,227.9 L125.1,229.0 L128.2,230.1 L131.3,231.2 L134.4,232.3 L137.5,233.5 L140.5,234.6 L143.6,235.7 L146.7,236.8 L149.8,237.9 L152.9,239.0 L156.0,240.1 L159.1,241.3 L162.4,242.5 L165.7,243.7 L169.0,244.9 L172.3,246.1 L175.6,247.3 L178.9,248.5 L182.2,249.7 L185.5,250.9 L188.8,252.1 L192.1,253.3 L195.4,254.5 L198.7,255.6 L202.0,256.8 L205.4,258.0 L209.2,259.4 M37.9,107.0 L37.3,114.0 L37.0,121.0 L37.4,128.0 L38.2,135.1 L39.0,142.2 L39.9,149.2 L41.0,156.3 L42.1,163.4 L44.1,170.2 L47.2,176.8 L65.1,203.3 L67.8,204.2 L70.5,205.1 L73.1,206.0 L75.9,206.9 L78.8,207.9 L81.7,208.9 L84.6,209.9 L87.5,210.8 L90.4,211.8 L93.3,212.8 L96.2,213.8 L99.1,214.7 L102.0,215.7 L104.9,216.6 L107.8,217.6 L110.7,218.5 L113.6,219.5 L116.6,220.4 L119.5,221.4 L122.6,222.4 L125.7,223.4 L128.7,224.4 L131.8,225.4 L134.8,226.4 L137.9,227.4 L141.0,228.4 L144.0,229.4 L147.1,230.4 L150.1,231.3 L153.2,232.3 L156.3,233.3 L159.3,234.3 L162.4,235.3 L165.6,236.4 L168.9,237.5 L172.1,238.6 L175.4,239.6 L178.7,240.7 L181.9,241.8 L185.2,242.9 L188.5,243.9 L191.7,245.0 L195.0,246.0 L198.2,247.1 L201.5,248.1 L204.8,249.1 L208.0,250.2 L211.8,251.5 M42.5,108.8 L42.1,115.5 L41.9,122.1 L42.4,128.8 L43.3,135.5 L44.2,142.3 L45.2,149.0 L46.2,155.7 L47.4,162.4 L49.4,168.9 L52.5,175.1 L69.7,200.4 L72.3,201.2 L75.0,202.0 L77.7,202.8 L80.4,203.7 L83.2,204.6 L86.1,205.5 L89.0,206.4 L91.9,207.3 L94.8,208.2 L97.6,209.0 L100.5,209.9 L103.4,210.8 L106.3,211.6 L109.2,212.5 L112.0,213.4 L114.9,214.2 L117.8,215.1 L120.7,215.9 L123.6,216.7 L126.7,217.6 L129.7,218.5 L132.7,219.4 L135.7,220.3 L138.8,221.2 L141.8,222.1 L144.8,223.0 L147.8,223.9 L150.9,224.7 L153.9,225.6 L156.9,226.5 L159.9,227.4 L163.0,228.3 L166.0,229.2 L169.2,230.1 L172.4,231.1 L175.6,232.0 L178.8,233.0 L182.1,234.0 L185.3,234.9 L188.5,235.9 L191.7,236.8 L194.9,237.8 L198.2,238.7 L201.4,239.6 L204.6,240.5 L207.8,241.5 L211.0,242.4 L214.7,243.5 M47.5,109.3 L47.2,115.6 L47.2,121.9 L47.8,128.3 L48.7,134.7 L49.7,141.1 L50.7,147.5 L51.9,153.9 L53.1,160.3 L55.1,166.5 L58.2,172.4 L74.7,196.4 L77.3,197.1 L79.9,197.9 L82.6,198.7 L85.3,199.5 L88.1,200.3 L91.0,201.1 L93.9,202.0 L96.7,202.8 L99.6,203.6 L102.4,204.4 L105.3,205.2 L108.1,206.0 L111.0,206.8 L113.9,207.6 L116.7,208.4 L119.6,209.1 L122.4,209.9 L125.3,210.7 L128.2,211.4 L131.2,212.2 L134.2,213.0 L137.2,213.9 L140.2,214.7 L143.2,215.5 L146.2,216.3 L149.2,217.1 L152.2,217.9 L155.2,218.6 L158.2,219.4 L161.2,220.2 L164.2,221.0 L167.2,221.8 L170.2,222.6 L173.3,223.5 L176.5,224.4 L179.7,225.3 L182.9,226.1 L186.1,227.0 L189.2,227.9 L192.4,228.7 L195.6,229.6 L198.8,230.4 L202.0,231.3 L205.2,232.1 L208.3,232.9 L211.5,233.7 L214.7,234.6 L218.4,235.6 M52.4,108.3 L52.3,114.3 L52.4,120.3 L53.1,126.4 L54.1,132.5 L55.1,138.6 L56.3,144.7 L57.5,150.8 L58.8,156.9 L60.9,162.8 L63.9,168.4 L79.6,191.1 L82.3,191.9 L84.9,192.6 L87.6,193.4 L90.3,194.2 L93.1,194.9 L96.0,195.7 L98.8,196.5 L101.6,197.3 L104.5,198.0 L107.3,198.8 L110.2,199.6 L113.0,200.3 L115.9,201.1 L118.7,201.8 L121.6,202.5 L124.4,203.2 L127.3,204.0 L130.1,204.7 L133.0,205.4 L136.0,206.1 L139.0,206.9 L142.0,207.6 L144.9,208.4 L147.9,209.1 L150.9,209.9 L153.9,210.6 L156.8,211.3 L159.8,212.1 L162.8,212.8 L165.8,213.5 L168.8,214.3 L171.7,215.0 L174.7,215.7 L177.8,216.5 L181.0,217.3 L184.1,218.2 L187.3,219.0 L190.4,219.8 L193.6,220.6 L196.7,221.4 L199.9,222.1 L203.1,222.9 L206.2,223.7 L209.4,224.4 L212.5,225.2 L215.7,226.0 L218.8,226.7 L222.4,227.7 M57.0,106.5 L57.1,112.2 L57.3,117.9 L58.1,123.7 L59.2,129.5 L60.4,135.3 L61.6,141.1 L62.9,146.9 L64.3,152.7 L66.4,158.3 L69.4,163.7 L84.4,185.2 L87.1,185.9 L89.7,186.7 L92.3,187.4 L95.1,188.2 L97.9,188.9 L100.7,189.7 L103.5,190.4 L106.4,191.2 L109.2,191.9 L112.0,192.7 L114.9,193.4 L117.7,194.1 L120.6,194.8 L123.4,195.5 L126.2,196.2 L129.1,196.9 L131.9,197.6 L134.8,198.2 L137.6,198.9 L140.6,199.6 L143.6,200.3 L146.5,201.0 L149.5,201.7 L152.4,202.4 L155.4,203.1 L158.4,203.8 L161.3,204.5 L164.3,205.2 L167.2,205.9 L170.2,206.6 L173.2,207.2 L176.1,207.9 L179.1,208.6 L182.2,209.4 L185.3,210.1 L188.4,210.9 L191.5,211.7 L194.7,212.4 L197.8,213.2 L200.9,213.9 L204.0,214.6 L207.2,215.3 L210.3,216.0 L213.4,216.7 L216.6,217.4 L219.7,218.1 L222.8,218.8 L226.3,219.7 M61.7,104.6 L61.9,110.0 L62.3,115.4 L63.2,120.9 L64.4,126.4 L65.6,131.9 L66.9,137.5 L68.3,143.0 L69.8,148.5 L71.9,153.9 L74.9,158.9 L89.2,179.2 L91.8,180.0 L94.5,180.7 L97.1,181.4 L99.8,182.2 L102.6,182.9 L105.4,183.6 L108.3,184.4 L111.1,185.1 L113.9,185.8 L116.7,186.5 L119.6,187.2 L122.4,187.9 L125.2,188.5 L128.0,189.2 L130.9,189.9 L133.7,190.5 L136.5,191.1 L139.4,191.8 L142.2,192.4 L145.2,193.1 L148.1,193.7 L151.1,194.4 L154.0,195.1 L157.0,195.7 L159.9,196.4 L162.8,197.0 L165.8,197.7 L168.7,198.3 L171.7,198.9 L174.6,199.6 L177.6,200.2 L180.5,200.8 L183.5,201.5 L186.5,202.2 L189.6,202.9 L192.7,203.6 L195.8,204.3 L198.9,205.0 L202.0,205.7 L205.1,206.4 L208.2,207.1 L211.3,207.7 L214.4,208.4 L217.5,209.0 L220.6,209.7 L223.7,210.3 L226.8,211.0 L230.3,211.8 M66.2,102.3 L66.5,107.5 L67.1,112.6 L68.1,117.8 L69.4,123.0 L70.7,128.3 L72.1,133.5 L73.6,138.8 L75.1,144.0 L77.3,149.1 L80.2,153.9 L93.8,173.0 L96.4,173.7 L99.1,174.4 L101.7,175.2 L104.5,175.9 L107.2,176.6 L110.1,177.3 L112.9,178.0 L115.7,178.7 L118.5,179.4 L121.3,180.1 L124.2,180.8 L127.0,181.4 L129.8,182.1 L132.6,182.7 L135.4,183.3 L138.3,184.0 L141.1,184.6 L143.9,185.2 L146.8,185.8 L149.7,186.4 L152.6,187.0 L155.5,187.6 L158.5,188.3 L161.4,188.9 L164.3,189.5 L167.3,190.1 L170.2,190.7 L173.1,191.3 L176.0,191.9 L179.0,192.5 L181.9,193.1 L184.8,193.7 L187.8,194.3 L190.8,194.9 L193.9,195.6 L196.9,196.3 L200.0,196.9 L203.1,197.6 L206.2,198.2 L209.2,198.9 L212.3,199.5 L215.4,200.1 L218.5,200.7 L221.5,201.3 L224.6,201.9 L227.7,202.5 L230.8,203.1 L234.2,203.9 M70.5,99.8 L71.0,104.6 L71.7,109.5 L72.8,114.4 L74.2,119.3 L75.6,124.3 L77.1,129.3 L78.7,134.3 L80.3,139.3 L82.5,144.1 L85.4,148.6 L98.3,166.5 L100.9,167.2 L103.6,167.9 L106.2,168.7 L109.0,169.4 L111.8,170.1 L114.6,170.8 L117.4,171.5 L120.2,172.2 L123.0,172.8 L125.8,173.5 L128.6,174.1 L131.5,174.8 L134.3,175.4 L137.1,176.0 L139.9,176.6 L142.7,177.2 L145.5,177.8 L148.4,178.4 L151.2,178.9 L154.1,179.5 L157.0,180.1 L160.0,180.7 L162.9,181.3 L165.8,181.9 L168.7,182.5 L171.6,183.0 L174.5,183.6 L177.5,184.2 L180.4,184.7 L183.3,185.3 L186.2,185.9 L189.1,186.4 L192.1,187.0 L195.1,187.6 L198.1,188.2 L201.2,188.9 L204.2,189.5 L207.3,190.1 L210.3,190.7 L213.4,191.3 L216.4,191.9 L219.5,192.5 L222.5,193.0 L225.6,193.6 L228.6,194.1 L231.7,194.7 L234.7,195.2 L238.1,195.9 M74.8,97.2 L75.5,101.8 L76.3,106.4 L77.6,111.0 L79.0,115.7 L80.5,120.4 L82.1,125.1 L83.8,129.8 L85.5,134.5 L87.7,139.0 L90.6,143.3 L102.8,160.0 L105.4,160.7 L108.1,161.4 L110.8,162.1 L113.5,162.9 L116.3,163.6 L119.1,164.3 L121.9,164.9 L124.7,165.6 L127.5,166.2 L130.3,166.9 L133.1,167.5 L136.0,168.1 L138.8,168.7 L141.6,169.3 L144.4,169.9 L147.2,170.5 L150.0,171.0 L152.8,171.6 L155.7,172.1 L158.6,172.7 L161.5,173.2 L164.4,173.8 L167.3,174.4 L170.2,174.9 L173.1,175.5 L176.0,176.0 L178.9,176.5 L181.8,177.0 L184.7,177.6 L187.6,178.1 L190.5,178.6 L193.4,179.2 L196.4,179.7 L199.4,180.3 L202.4,180.9 L205.4,181.4 L208.4,182.0 L211.5,182.6 L214.5,183.2 L217.5,183.7 L220.6,184.3 L223.6,184.8 L226.6,185.3 L229.7,185.8 L232.7,186.3 L235.7,186.9 L238.8,187.4 L242.1,188.0 M79.1,94.6 L79.9,98.9 L80.9,103.2 L82.3,107.5 L83.8,111.9 L85.5,116.4 L87.1,120.8 L88.9,125.3 L90.7,129.7 L92.9,133.9 L95.8,137.9 L107.3,153.4 L109.9,154.1 L112.6,154.9 L115.3,155.6 L118.0,156.3 L120.8,157.0 L123.6,157.7 L126.4,158.3 L129.2,159.0 L132.0,159.6 L134.8,160.2 L137.6,160.8 L140.4,161.4 L143.3,162.0 L146.1,162.6 L148.9,163.2 L151.7,163.7 L154.5,164.2 L157.3,164.8 L160.1,165.3 L163.0,165.8 L165.9,166.3 L168.8,166.9 L171.7,167.4 L174.6,167.9 L177.5,168.4 L180.4,168.9 L183.3,169.4 L186.2,169.9 L189.1,170.4 L192.0,170.9 L194.9,171.4 L197.8,171.9 L200.7,172.4 L203.7,172.9 L206.7,173.5 L209.7,174.0 L212.7,174.6 L215.7,175.1 L218.7,175.6 L221.8,176.1 L224.8,176.6 L227.8,177.1 L230.8,177.6 L233.8,178.1 L236.8,178.6 L239.8,179.0 L242.9,179.5 L246.2,180.1 M83.2,91.8 L84.2,95.8 L85.4,99.9 L86.9,103.9 L88.5,108.0 L90.2,112.2 L92.0,116.4 L93.8,120.6 L95.7,124.7 L98.0,128.7 L100.9,132.5 L111.6,146.7 L114.3,147.4 L117.0,148.2 L119.7,148.9 L122.4,149.7 L125.2,150.3 L128.0,151.0 L130.8,151.6 L133.6,152.3 L136.4,152.9 L139.2,153.5 L142.0,154.1 L144.8,154.7 L147.6,155.2 L150.5,155.8 L153.3,156.3 L156.1,156.8 L158.9,157.4 L161.7,157.8 L164.5,158.3 L167.4,158.8 L170.3,159.3 L173.2,159.8 L176.1,160.3 L179.0,160.8 L181.9,161.3 L184.7,161.8 L187.6,162.3 L190.5,162.7 L193.4,163.2 L196.3,163.6 L199.2,164.1 L202.1,164.6 L205.0,165.0 L207.9,165.5 L210.9,166.0 L213.9,166.6 L216.9,167.1 L219.9,167.6 L222.9,168.1 L225.9,168.5 L228.9,169.0 L231.9,169.5 L234.9,169.9 L237.9,170.3 L240.9,170.8 L243.9,171.2 L246.8,171.6 L250.1,172.2 M87.3,88.9 L88.5,92.7 L89.8,96.4 L91.4,100.2 L93.2,104.1 L95.0,108.0 L96.9,111.9 L98.8,115.8 L100.7,119.7 L103.1,123.4 L106.0,126.9 L116.0,139.9 L118.7,140.7 L121.4,141.4 L124.1,142.2 L126.8,142.9 L129.6,143.6 L132.4,144.3 L135.2,144.9 L138.0,145.5 L140.8,146.1 L143.6,146.7 L146.5,147.3 L149.3,147.8 L152.1,148.4 L154.9,148.9 L157.7,149.4 L160.5,149.9 L163.3,150.4 L166.1,150.9 L169.0,151.4 L171.8,151.8 L174.7,152.3 L177.6,152.8 L180.5,153.3 L183.4,153.7 L186.2,154.2 L189.1,154.6 L192.0,155.1 L194.9,155.5 L197.8,155.9 L200.7,156.3 L203.5,156.8 L206.4,157.2 L209.3,157.7 L212.3,158.1 L215.2,158.6 L218.2,159.1 L221.2,159.6 L224.2,160.0 L227.2,160.5 L230.1,160.9 L233.1,161.4 L236.1,161.8 L239.1,162.2 L242.1,162.6 L245.0,163.0 L248.0,163.3 L251.0,163.7 L254.2,164.2 M91.5,86.1 L92.8,89.6 L94.3,93.1 L96.0,96.6 L97.9,100.2 L99.8,103.8 L101.8,107.4 L103.8,111.1 L105.9,114.7 L108.3,118.1 L111.2,121.4 L120.5,133.2 L123.2,134.0 L125.9,134.7 L128.6,135.5 L131.4,136.2 L134.2,136.9 L137.0,137.5 L139.8,138.2 L142.6,138.8 L145.4,139.3 L148.2,139.9 L151.1,140.5 L153.9,141.0 L156.7,141.6 L159.5,142.1 L162.3,142.6 L165.1,143.1 L168.0,143.5 L170.8,144.0 L173.6,144.4 L176.5,144.9 L179.4,145.3 L182.3,145.8 L185.2,146.2 L188.0,146.6 L190.9,147.1 L193.8,147.5 L196.7,147.9 L199.6,148.3 L202.4,148.7 L205.3,149.1 L208.2,149.5 L211.1,149.9 L214.0,150.3 L216.9,150.7 L219.9,151.2 L222.9,151.6 L225.8,152.1 L228.8,152.5 L231.8,152.9 L234.7,153.3 L237.7,153.7 L240.7,154.1 L243.7,154.5 L246.6,154.8 L249.6,155.2 L252.6,155.5 L255.5,155.8 L258.7,156.3 M95.7,83.3 L97.2,86.5 L98.8,89.7 L100.7,93.0 L102.7,96.2 L104.7,99.6 L106.8,103.0 L108.9,106.4 L111.0,109.7 L113.5,112.9 L116.4,115.9 L125.0,126.5 L127.7,127.3 L130.4,128.0 L133.2,128.8 L136.0,129.5 L138.7,130.2 L141.6,130.8 L144.4,131.4 L147.2,132.0 L150.1,132.6 L152.9,133.2 L155.7,133.7 L158.5,134.2 L161.4,134.8 L164.2,135.3 L167.0,135.7 L169.8,136.2 L172.7,136.6 L175.5,137.1 L178.4,137.5 L181.2,137.9 L184.1,138.3 L187.0,138.7 L189.9,139.2 L192.8,139.6 L195.7,140.0 L198.6,140.3 L201.4,140.7 L204.3,141.1 L207.2,141.5 L210.1,141.8 L213.0,142.2 L215.9,142.6 L218.8,142.9 L221.7,143.3 L224.7,143.8 L227.6,144.2 L230.6,144.6 L233.5,145.0 L236.5,145.3 L239.5,145.7 L242.4,146.1 L245.4,146.4 L248.4,146.7 L251.3,147.0 L254.3,147.4 L257.3,147.7 L260.2,148.0 L263.4,148.4 M99.8,80.5 L101.5,83.4 L103.2,86.3 L105.2,89.3 L107.3,92.3 L109.5,95.4 L111.7,98.5 L113.9,101.6 L116.1,104.7 L118.6,107.6 L121.5,110.4 L129.4,119.7 L132.1,120.5 L134.9,121.3 L137.6,122.1 L140.4,122.8 L143.3,123.5 L146.1,124.1 L148.9,124.7 L151.8,125.2 L154.6,125.8 L157.4,126.4 L160.3,126.9 L163.1,127.4 L165.9,127.9 L168.8,128.4 L171.6,128.9 L174.4,129.3 L177.3,129.7 L180.1,130.1 L183.0,130.5 L185.8,130.9 L188.7,131.3 L191.6,131.7 L194.5,132.1 L197.4,132.5 L200.3,132.8 L203.2,133.2 L206.0,133.5 L208.9,133.9 L211.8,134.2 L214.7,134.5 L217.6,134.9 L220.5,135.2 L223.4,135.6 L226.3,135.9 L229.3,136.3 L232.2,136.7 L235.2,137.1 L238.1,137.4 L241.1,137.8 L244.0,138.1 L247.0,138.4 L249.9,138.7 L252.9,139.0 L255.8,139.3 L258.8,139.5 L261.8,139.8 L264.7,140.1 L267.8,140.4 M103.8,77.5 L105.7,80.1 L107.6,82.8 L109.7,85.5 L111.9,88.2 L114.2,91.0 L116.5,93.9 L118.8,96.7 L121.1,99.5 L123.7,102.2 L126.6,104.7 L133.7,112.9 L136.5,113.7 L139.3,114.5 L142.0,115.2 L144.8,116.0 L147.7,116.6 L150.5,117.3 L153.3,117.8 L156.2,118.4 L159.0,118.9 L161.9,119.5 L164.7,120.0 L167.6,120.5 L170.4,121.0 L173.2,121.5 L176.1,121.9 L178.9,122.3 L181.8,122.7 L184.6,123.1 L187.5,123.5 L190.3,123.9 L193.2,124.2 L196.1,124.6 L199.0,125.0 L201.9,125.3 L204.8,125.6 L207.7,126.0 L210.5,126.3 L213.4,126.6 L216.3,126.9 L219.2,127.2 L222.1,127.5 L225.0,127.8 L227.9,128.2 L230.8,128.5 L233.7,128.8 L236.7,129.2 L239.6,129.5 L242.6,129.9 L245.5,130.2 L248.5,130.5 L251.4,130.8 L254.3,131.0 L257.3,131.3 L260.2,131.5 L263.2,131.7 L266.1,132.0 L269.1,132.2 L272.2,132.5 M107.7,74.4 L109.8,76.7 L111.9,79.1 L114.1,81.6 L116.4,84.0 L118.8,86.6 L121.2,89.2 L123.6,91.8 L126.0,94.3 L128.6,96.7 L131.5,99.0 L137.9,105.9 L140.7,106.7 L143.5,107.5 L146.3,108.3 L149.1,109.1 L151.9,109.7 L154.8,110.3 L157.6,110.9 L160.5,111.5 L163.3,112.0 L166.2,112.5 L169.0,113.0 L171.9,113.5 L174.7,114.0 L177.6,114.5 L180.4,114.9 L183.3,115.3 L186.1,115.7 L189.0,116.1 L191.8,116.4 L194.7,116.8 L197.6,117.1 L200.5,117.4 L203.3,117.8 L206.2,118.1 L209.1,118.4 L212.0,118.7 L214.9,119.0 L217.8,119.3 L220.6,119.6 L223.5,119.9 L226.4,120.2 L229.3,120.4 L232.2,120.7 L235.1,121.0 L238.0,121.4 L241.0,121.7 L243.9,122.0 L246.8,122.3 L249.8,122.6 L252.7,122.8 L255.6,123.1 L258.6,123.3 L261.5,123.5 L264.4,123.7 L267.4,123.9 L270.3,124.1 L273.2,124.3 L276.3,124.6 M111.6,71.1 L113.8,73.2 L116.0,75.4 L118.4,77.5 L120.8,79.7 L123.3,82.0 L125.7,84.3 L128.2,86.7 L130.8,88.9 L133.4,91.1 L136.3,93.1 L142.0,98.9 L144.8,99.7 L147.7,100.5 L150.5,101.3 L153.3,102.1 L156.1,102.7 L159.0,103.3 L161.8,103.9 L164.7,104.4 L167.5,105.0 L170.4,105.5 L173.2,106.0 L176.1,106.5 L178.9,106.9 L181.8,107.4 L184.6,107.8 L187.5,108.2 L190.4,108.6 L193.2,108.9 L196.1,109.3 L199.0,109.6 L201.8,109.9 L204.7,110.2 L207.6,110.5 L210.5,110.8 L213.4,111.1 L216.2,111.4 L219.1,111.7 L222.0,112.0 L224.9,112.2 L227.8,112.5 L230.6,112.7 L233.5,113.0 L236.4,113.3 L239.3,113.5 L242.2,113.8 L245.2,114.1 L248.1,114.4 L251.0,114.7 L253.9,114.9 L256.8,115.2 L259.8,115.4 L262.7,115.6 L265.6,115.8 L268.5,115.9 L271.4,116.1 L274.4,116.3 L277.3,116.4 L280.3,116.6 M115.2,67.7 L117.6,69.5 L120.0,71.4 L122.5,73.3 L125.0,75.2 L127.6,77.2 L130.2,79.3 L132.8,81.4 L135.4,83.4 L138.1,85.3 L141.0,87.1 L146.0,91.6 L148.8,92.5 L151.7,93.3 L154.5,94.1 L157.3,94.9 L160.2,95.6 L163.1,96.2 L165.9,96.7 L168.8,97.3 L171.6,97.8 L174.5,98.3 L177.4,98.8 L180.2,99.3 L183.1,99.8 L186.0,100.2 L188.8,100.6 L191.7,101.0 L194.5,101.3 L197.4,101.7 L200.3,102.0 L203.2,102.3 L206.0,102.6 L208.9,102.9 L211.8,103.2 L214.7,103.5 L217.6,103.8 L220.5,104.0 L223.3,104.3 L226.2,104.5 L229.1,104.8 L232.0,105.0 L234.9,105.3 L237.8,105.5 L240.6,105.8 L243.5,106.0 L246.5,106.3 L249.4,106.5 L252.3,106.8 L255.2,107.0 L258.1,107.3 L261.0,107.5 L263.9,107.7 L266.8,107.8 L269.8,108.0 L272.7,108.1 L275.6,108.3 L278.5,108.4 L281.4,108.5 L284.4,108.7 M118.8,64.2 L121.4,65.8 L123.9,67.4 L126.6,69.0 L129.2,70.7 L131.9,72.4 L134.6,74.3 L137.3,76.1 L140.0,77.8 L142.8,79.5 L145.7,81.0 L150.0,84.4 L152.8,85.2 L155.7,86.1 L158.5,86.9 L161.4,87.7 L164.3,88.4 L167.2,89.0 L170.0,89.5 L172.9,90.1 L175.8,90.6 L178.7,91.1 L181.5,91.6 L184.4,92.1 L187.3,92.5 L190.1,93.0 L193.0,93.4 L195.9,93.7 L198.8,94.1 L201.7,94.4 L204.5,94.7 L207.4,95.0 L210.3,95.3 L213.2,95.6 L216.1,95.9 L219.0,96.1 L221.9,96.4 L224.8,96.6 L227.6,96.9 L230.5,97.1 L233.4,97.3 L236.3,97.5 L239.2,97.8 L242.1,98.0 L245.0,98.2 L247.9,98.5 L250.8,98.7 L253.7,98.9 L256.6,99.2 L259.5,99.4 L262.4,99.6 L265.3,99.8 L268.2,99.9 L271.1,100.1 L274.1,100.2 L277.0,100.3 L279.9,100.4 L282.8,100.5 L285.7,100.6 L288.6,100.8 M122.4,60.7 L125.1,62.0 L127.9,63.4 L130.6,64.7 L133.4,66.1 L136.2,67.6 L139.0,69.2 L141.8,70.8 L144.6,72.3 L147.5,73.7 L150.4,74.9 L154.0,77.1 L156.8,78.0 L159.7,78.9 L162.6,79.7 L165.5,80.5 L168.4,81.2 L171.3,81.8 L174.1,82.3 L177.0,82.9 L179.9,83.4 L182.8,83.9 L185.7,84.4 L188.6,84.9 L191.5,85.3 L194.4,85.7 L197.3,86.1 L200.1,86.5 L203.0,86.8 L205.9,87.2 L208.8,87.5 L211.7,87.7 L214.6,88.0 L217.5,88.3 L220.4,88.5 L223.3,88.8 L226.2,89.0 L229.1,89.2 L232.0,89.5 L234.9,89.7 L237.8,89.9 L240.7,90.1 L243.6,90.3 L246.5,90.5 L249.4,90.7 L252.3,90.9 L255.2,91.1 L258.1,91.3 L261.0,91.5 L263.9,91.7 L266.8,91.9 L269.7,92.1 L272.6,92.2 L275.5,92.3 L278.4,92.4 L281.3,92.5 L284.2,92.6 L287.1,92.7 L290.0,92.7 L293.0,92.8" stroke="#80786a" stroke-width="0.6" fill="none" opacity="0.26" clip-path="url(#csurf)"/>
<path d="M126.3,57.5 L126.8,78" stroke="#8a7a70" stroke-width="0.7" opacity="0.6"/>
<path d="M41.00,169.00 C41.50,168.55 42.50,167.20 44.00,166.30 C45.50,165.40 47.83,164.48 50.00,163.60 C52.17,162.72 54.50,161.82 57.00,161.00 C59.50,160.18 60.73,159.87 65.00,158.70 C69.27,157.53 76.77,155.60 82.60,154.00 C88.43,152.40 94.67,150.40 100.00,149.10 C105.33,147.80 109.73,147.00 114.60,146.20 C119.47,145.40 124.33,144.82 129.20,144.30 C134.07,143.78 138.93,143.40 143.80,143.10 C148.67,142.80 153.53,142.62 158.40,142.50 C163.27,142.38 167.73,142.40 173.00,142.40 C178.27,142.40 185.22,142.28 190.00,142.50 C194.78,142.72 197.80,143.35 201.70,143.70 C205.60,144.05 209.52,144.22 213.40,144.60 C217.28,144.98 221.12,145.47 225.00,146.00 C228.88,146.53 232.80,147.25 236.70,147.80 C240.60,148.35 244.23,148.72 248.40,149.30 C252.57,149.88 259.48,150.97 261.70,151.30" stroke="#8cc63a" stroke-width="1" fill="none" opacity="0.85"/>
<path d="M31.8,178.7 L127,78 L272.2,133" stroke="#8a6a40" stroke-width="0.7" fill="none" opacity="0.6"/>
<path d="M2,110 L12.2,196 M304.9,58.7 L295.4,141 M295.4,141 L272.5,132" stroke="#555" stroke-width="0.8" fill="none"/>
<path d="M12.2,196 L204.7,291.2 L295.4,141" stroke="#333" stroke-width="1" fill="none"/>
<text x="0.50" y="17.20" font-family='"Liberation Sans", sans-serif' font-size="27.00" text-anchor="start" fill="#000" font-weight="bold" >a</text>
<g transform="translate(131.2,112.4) rotate(17.5)"><text class="br" font-family='"Liberation Serif", serif' font-size="14.5" fill="#8a4a12" textLength="45" lengthAdjust="spacingAndGlyphs">2DSC</text></g>
<g transform="translate(116.3,187.6) rotate(23)"><text class="br" font-family='"Liberation Serif", serif' font-size="16" fill="#8a4a12" textLength="55" lengthAdjust="spacingAndGlyphs">2DSM</text></g>
<text x="15.00" y="214.70" font-family='"Liberation Sans", sans-serif' font-size="10.90" text-anchor="start" fill="#222" class="nb" textLength="5.2" lengthAdjust="spacingAndGlyphs">5</text>
<text x="50.60" y="235.70" font-family='"Liberation Sans", sans-serif' font-size="10.90" text-anchor="start" fill="#222" class="nb" textLength="10.4" lengthAdjust="spacingAndGlyphs">10</text>
<text x="93.90" y="256.90" font-family='"Liberation Sans", sans-serif' font-size="10.90" text-anchor="start" fill="#222" class="nb" textLength="10.4" lengthAdjust="spacingAndGlyphs">15</text>
<text x="139.60" y="279.90" font-family='"Liberation Sans", sans-serif' font-size="10.90" text-anchor="start" fill="#222" class="nb" textLength="10.4" lengthAdjust="spacingAndGlyphs">20</text>
<text x="188.80" y="304.10" font-family='"Liberation Sans", sans-serif' font-size="10.90" text-anchor="start" fill="#222" class="nb" textLength="10.4" lengthAdjust="spacingAndGlyphs">25</text>
<text x="210.10" y="296.30" font-family='"Liberation Sans", sans-serif' font-size="10.90" text-anchor="start" fill="#222" class="nb" textLength="5.2" lengthAdjust="spacingAndGlyphs">0</text>
<text x="249.70" y="231.30" font-family='"Liberation Sans", sans-serif' font-size="10.90" text-anchor="start" fill="#222" class="nb" textLength="10.4" lengthAdjust="spacingAndGlyphs">20</text>
<text x="282.10" y="175.10" font-family='"Liberation Sans", sans-serif' font-size="10.90" text-anchor="start" fill="#222" class="nb" textLength="10.4" lengthAdjust="spacingAndGlyphs">40</text>
<text x="308.40" y="68.00" font-family='"Liberation Sans", sans-serif' font-size="10.90" text-anchor="start" fill="#222" class="nb" textLength="15.6" lengthAdjust="spacingAndGlyphs">150</text>
<text x="306.00" y="95.30" font-family='"Liberation Sans", sans-serif' font-size="10.90" text-anchor="start" fill="#222" class="nb" textLength="15.6" lengthAdjust="spacingAndGlyphs">100</text>
<text x="302.20" y="121.90" font-family='"Liberation Sans", sans-serif' font-size="10.90" text-anchor="start" fill="#222" class="nb" textLength="10.4" lengthAdjust="spacingAndGlyphs">50</text>
<text x="299.80" y="146.90" font-family='"Liberation Sans", sans-serif' font-size="10.90" text-anchor="start" fill="#222" class="nb" textLength="5.2" lengthAdjust="spacingAndGlyphs">0</text>
<g transform="translate(82.5,266) rotate(27)"><text class="th" x="0" y="5" font-family='"Liberation Serif", serif' font-size="16" font-style="italic" text-anchor="middle">N</text></g>
<g transform="translate(274.0,246.5) rotate(-59.5)"><text class="th" x="0" y="0" font-family='"Liberation Serif", serif' font-size="17.5" font-style="italic">&#916; (meV)</text></g>
<g transform="translate(332.40,139.50) rotate(-90.0)"><text class="th" x="0" y="0" font-family='"Liberation Serif", serif' font-size="15.5" font-style="italic">m</text><text class="th" x="10.9" y="3.1" font-family='"Liberation Serif", serif' font-size="12.5" font-style="italic" textLength="20.5" lengthAdjust="spacingAndGlyphs">max</text><text class="th" x="31.8" y="0.8" font-family='"Liberation Serif", serif' font-size="16">/</text><text x="38.9" y="0" font-family='"Liberation Sans", sans-serif' font-size="13.5" class="nb">&#956;</text><text x="48.1" y="3.0" font-family='"Liberation Sans", sans-serif' font-size="10.5" class="nb">B</text></g>
<g transform="translate(21.30,179.60) rotate(-96.5)"><text class="th" x="0" y="0" font-family='"Liberation Serif", serif' font-size="15.5" font-style="italic">m</text><text class="th" x="10.9" y="3.1" font-family='"Liberation Serif", serif' font-size="12.5" font-style="italic" textLength="20.5" lengthAdjust="spacingAndGlyphs">max</text><text class="th" x="31.8" y="0.8" font-family='"Liberation Serif", serif' font-size="16">/</text><text x="38.9" y="0" font-family='"Liberation Sans", sans-serif' font-size="13.5" class="nb">&#956;</text><text x="48.1" y="3.0" font-family='"Liberation Sans", sans-serif' font-size="10.5" class="nb">B</text></g>
<defs><clipPath id="cb"><rect x="422.20" y="2.90" width="261.30" height="261.50"/></clipPath></defs>
<line x1="422.20" y1="143.35" x2="683.50" y2="143.35" stroke="#a0a0a0" stroke-width="1"/>
<rect x="422.20" y="2.90" width="261.30" height="261.50" fill="none" stroke="#9a9a9a" stroke-width="1.2"/>
<path d="M432.18,264.40 v-2.50 M432.18,2.90 v2.50 M442.64,264.40 v-2.50 M442.64,2.90 v2.50 M453.10,264.40 v-4.00 M453.10,2.90 v4.00 M463.56,264.40 v-2.50 M463.56,2.90 v2.50 M474.02,264.40 v-2.50 M474.02,2.90 v2.50 M484.48,264.40 v-2.50 M484.48,2.90 v2.50 M494.94,264.40 v-2.50 M494.94,2.90 v2.50 M505.40,264.40 v-4.00 M505.40,2.90 v4.00 M515.86,264.40 v-2.50 M515.86,2.90 v2.50 M526.32,264.40 v-2.50 M526.32,2.90 v2.50 M536.78,264.40 v-2.50 M536.78,2.90 v2.50 M547.24,264.40 v-2.50 M547.24,2.90 v2.50 M557.70,264.40 v-4.00 M557.70,2.90 v4.00 M568.16,264.40 v-2.50 M568.16,2.90 v2.50 M578.62,264.40 v-2.50 M578.62,2.90 v2.50 M589.08,264.40 v-2.50 M589.08,2.90 v2.50 M599.54,264.40 v-2.50 M599.54,2.90 v2.50 M610.00,264.40 v-4.00 M610.00,2.90 v4.00 M620.46,264.40 v-2.50 M620.46,2.90 v2.50 M630.92,264.40 v-2.50 M630.92,2.90 v2.50 M641.38,264.40 v-2.50 M641.38,2.90 v2.50 M651.84,264.40 v-2.50 M651.84,2.90 v2.50 M662.30,264.40 v-4.00 M662.30,2.90 v4.00 M672.76,264.40 v-2.50 M672.76,2.90 v2.50 M683.22,264.40 v-2.50 M683.22,2.90 v2.50" stroke="#555" stroke-width="0.9" fill="none"/>
<path d="M422.20,255.23 h4.00 M683.50,255.23 h-4.00 M422.20,245.89 h2.50 M683.50,245.89 h-2.50 M422.20,236.55 h2.50 M683.50,236.55 h-2.50 M422.20,227.21 h2.50 M683.50,227.21 h-2.50 M422.20,217.87 h4.00 M683.50,217.87 h-4.00 M422.20,208.53 h2.50 M683.50,208.53 h-2.50 M422.20,199.19 h2.50 M683.50,199.19 h-2.50 M422.20,189.85 h2.50 M683.50,189.85 h-2.50 M422.20,180.51 h4.00 M683.50,180.51 h-4.00 M422.20,171.17 h2.50 M683.50,171.17 h-2.50 M422.20,161.83 h2.50 M683.50,161.83 h-2.50 M422.20,152.49 h2.50 M683.50,152.49 h-2.50 M422.20,143.15 h4.00 M683.50,143.15 h-4.00 M422.20,133.81 h2.50 M683.50,133.81 h-2.50 M422.20,124.47 h2.50 M683.50,124.47 h-2.50 M422.20,115.13 h2.50 M683.50,115.13 h-2.50 M422.20,105.79 h4.00 M683.50,105.79 h-4.00 M422.20,96.45 h2.50 M683.50,96.45 h-2.50 M422.20,87.11 h2.50 M683.50,87.11 h-2.50 M422.20,77.77 h2.50 M683.50,77.77 h-2.50 M422.20,68.43 h4.00 M683.50,68.43 h-4.00 M422.20,59.09 h2.50 M683.50,59.09 h-2.50 M422.20,49.75 h2.50 M683.50,49.75 h-2.50 M422.20,40.41 h2.50 M683.50,40.41 h-2.50 M422.20,31.07 h4.00 M683.50,31.07 h-4.00 M422.20,21.73 h2.50 M683.50,21.73 h-2.50 M422.20,12.39 h2.50 M683.50,12.39 h-2.50 M422.20,3.05 h2.50 M683.50,3.05 h-2.50" stroke="#555" stroke-width="0.9" fill="none"/>
<text x="453.10" y="280.00" font-family='"Liberation Serif", serif' font-size="17.00" text-anchor="middle" fill="#000" >&#8722;10</text>
<text x="505.40" y="280.00" font-family='"Liberation Serif", serif' font-size="17.00" text-anchor="middle" fill="#000" >&#8722;5</text>
<text x="557.70" y="280.00" font-family='"Liberation Serif", serif' font-size="17.00" text-anchor="middle" fill="#000" >0</text>
<text x="610.00" y="280.00" font-family='"Liberation Serif", serif' font-size="17.00" text-anchor="middle" fill="#000" >5</text>
<text x="662.30" y="280.00" font-family='"Liberation Serif", serif' font-size="17.00" text-anchor="middle" fill="#000" >10</text>
<text x="419.50" y="260.43" font-family='"Liberation Serif", serif' font-size="17.00" text-anchor="end" fill="#000" >&#8722;6</text>
<text x="419.50" y="223.07" font-family='"Liberation Serif", serif' font-size="17.00" text-anchor="end" fill="#000" >&#8722;4</text>
<text x="419.50" y="185.71" font-family='"Liberation Serif", serif' font-size="17.00" text-anchor="end" fill="#000" >&#8722;2</text>
<text x="419.50" y="148.35" font-family='"Liberation Serif", serif' font-size="17.00" text-anchor="end" fill="#000" >0</text>
<text x="419.50" y="110.99" font-family='"Liberation Serif", serif' font-size="17.00" text-anchor="end" fill="#000" >2</text>
<text x="419.50" y="73.63" font-family='"Liberation Serif", serif' font-size="17.00" text-anchor="end" fill="#000" >4</text>
<text x="419.50" y="36.27" font-family='"Liberation Serif", serif' font-size="17.00" text-anchor="end" fill="#000" >6</text>
<g clip-path="url(#cb)">
<path d="M429.60,64.90 C430.63,65.48 433.60,67.02 435.80,68.40 C438.00,69.78 440.77,72.03 442.80,73.20 C444.83,74.37 445.97,74.85 448.00,75.40 C450.03,75.95 452.67,76.47 455.00,76.50 C457.33,76.53 459.67,75.78 462.00,75.60 C464.33,75.42 467.33,75.17 469.00,75.40 C470.67,75.63 471.08,76.25 472.00,77.00 C472.92,77.75 473.48,79.03 474.50,79.90 C475.52,80.77 476.25,81.03 478.10,82.20 C479.95,83.37 483.27,85.35 485.60,86.90 C487.93,88.45 489.92,89.87 492.10,91.50 C494.28,93.13 496.67,95.13 498.70,96.70 C500.73,98.27 502.22,99.73 504.30,100.90 C506.38,102.07 508.80,103.27 511.20,103.70 C513.60,104.13 516.20,103.08 518.70,103.50 C521.20,103.92 523.70,104.92 526.20,106.20 C528.70,107.48 531.00,109.43 533.70,111.20 C536.40,112.97 539.28,115.03 542.40,116.80 C545.52,118.57 549.27,120.23 552.40,121.80 C555.53,123.37 559.10,125.23 561.20,126.20 C563.30,127.17 563.12,126.88 565.00,127.60 C566.88,128.32 570.00,129.83 572.50,130.50 C575.00,131.17 577.72,131.70 580.00,131.60 C582.28,131.50 584.33,130.77 586.20,129.90 C588.07,129.03 589.95,127.23 591.20,126.40 C592.45,125.57 592.83,124.10 593.70,124.90 C594.57,125.70 595.62,128.68 596.40,131.20 C597.18,133.72 597.83,137.20 598.40,140.00 C598.97,142.80 599.12,145.92 599.80,148.00 C600.48,150.08 601.07,151.02 602.50,152.50 C603.93,153.98 606.45,155.32 608.40,156.90 C610.35,158.48 612.50,161.63 614.20,162.00 C615.90,162.37 617.02,159.90 618.60,159.10 C620.18,158.30 622.00,157.08 623.70,157.20 C625.40,157.32 626.98,158.27 628.80,159.80 C630.62,161.33 632.65,164.57 634.60,166.40 C636.55,168.23 638.43,169.95 640.50,170.80 C642.57,171.65 644.98,171.27 647.00,171.50 C649.02,171.73 650.48,171.62 652.60,172.20 C654.72,172.78 657.35,174.07 659.70,175.00 C662.05,175.93 665.53,177.33 666.70,177.80" stroke="#000" stroke-width="1.60" fill="none" stroke-linejoin="round" stroke-linecap="round" />
<path d="M421.20,65.70 C421.65,64.68 422.87,62.22 423.90,59.60 C424.93,56.98 426.48,53.13 427.40,50.00 C428.32,46.87 429.07,42.33 429.40,40.80" stroke="#f01010" stroke-width="1.60" fill="none" stroke-linejoin="round" stroke-linecap="round" />
<path d="M429.40,40.80 C430.53,39.93 433.60,37.23 436.20,35.60 C438.80,33.97 442.50,31.98 445.00,31.00 C447.50,30.02 449.12,29.70 451.20,29.70 C453.28,29.70 455.42,30.22 457.50,31.00 C459.58,31.78 461.63,32.80 463.70,34.40 C465.77,36.00 467.82,38.42 469.90,40.60 C471.98,42.78 474.32,45.52 476.20,47.50 C478.08,49.48 479.53,51.02 481.20,52.50 C482.87,53.98 484.75,55.07 486.20,56.40 C487.65,57.73 488.53,58.32 489.90,60.50 C491.27,62.68 492.72,66.37 494.40,69.50 C496.08,72.63 498.03,75.88 500.00,79.30 C501.97,82.72 504.33,86.97 506.20,90.00 C508.07,93.03 509.73,95.22 511.20,97.50 C512.67,99.78 513.53,101.42 515.00,103.70 C516.47,105.98 518.13,109.02 520.00,111.20 C521.87,113.38 523.92,115.03 526.20,116.80 C528.48,118.57 531.52,120.33 533.70,121.80 C535.88,123.27 537.97,124.28 539.30,125.60 C540.63,126.92 540.92,127.67 541.70,129.70 C542.48,131.73 543.13,135.65 544.00,137.80 C544.87,139.95 545.50,141.77 546.90,142.60 C548.30,143.43 550.35,142.72 552.40,142.80 C554.45,142.88 555.15,142.90 559.20,143.10 C563.25,143.30 570.85,143.52 576.70,144.00 C582.55,144.48 588.05,145.18 594.30,146.00 C600.55,146.82 608.45,147.57 614.20,148.90 C619.95,150.23 624.42,152.30 628.80,154.00 C633.18,155.70 637.70,157.77 640.50,159.10 C643.30,160.43 644.05,160.82 645.60,162.00 C647.15,163.18 648.63,164.80 649.80,166.20 C650.97,167.60 651.67,168.40 652.60,170.40 C653.53,172.40 654.45,175.50 655.40,178.20 C656.35,180.90 657.35,183.68 658.30,186.60 C659.25,189.52 660.27,193.07 661.10,195.70 C661.93,198.33 662.42,200.55 663.30,202.40 C664.18,204.25 665.37,206.58 666.40,206.80 C667.43,207.02 668.63,204.83 669.50,203.70 C670.37,202.57 670.67,202.03 671.60,200.00 C672.53,197.97 673.98,194.08 675.10,191.50 C676.22,188.92 677.25,186.20 678.30,184.50 C679.35,182.80 680.45,182.02 681.40,181.30 C682.35,180.58 683.57,180.38 684.00,180.20" stroke="#f01010" stroke-width="1.60" fill="none" stroke-linejoin="round" stroke-linecap="round" />
<path d="M421.20,55.50 C421.88,55.90 423.60,56.77 425.30,57.90 C427.00,59.03 429.37,60.55 431.40,62.30 C433.43,64.05 435.47,66.00 437.50,68.40 C439.53,70.80 442.58,75.32 443.60,76.70" stroke="#10a010" stroke-width="1.60" fill="none" stroke-linejoin="round" stroke-linecap="round" />
<path d="M443.60,76.70 C444.77,77.13 447.97,78.32 450.60,79.30 C453.23,80.28 456.38,81.42 459.40,82.60 C462.42,83.78 465.58,85.22 468.70,86.40 C471.82,87.58 475.28,88.68 478.10,89.70 C480.92,90.72 483.27,91.80 485.60,92.50 C487.93,93.20 489.45,93.43 492.10,93.90 C494.75,94.37 498.52,94.92 501.50,95.30 C504.48,95.68 506.72,96.00 510.00,96.20 C513.28,96.40 518.28,96.82 521.20,96.50 C524.12,96.18 525.42,95.80 527.50,94.30 C529.58,92.80 531.87,89.97 533.70,87.50 C535.53,85.03 536.98,82.27 538.50,79.50 C540.02,76.73 541.45,73.73 542.80,70.90 C544.15,68.07 545.35,64.45 546.60,62.50 C547.85,60.55 549.07,59.90 550.30,59.20 C551.53,58.50 552.83,58.22 554.00,58.30 C555.17,58.38 556.20,58.85 557.30,59.70 C558.40,60.55 559.43,61.85 560.60,63.40 C561.77,64.95 563.05,67.28 564.30,69.00 C565.55,70.72 566.68,72.22 568.10,73.70 C569.52,75.18 570.93,76.65 572.80,77.90 C574.67,79.15 576.97,80.18 579.30,81.20 C581.63,82.22 583.35,82.85 586.80,84.00 C590.25,85.15 596.57,87.20 600.00,88.10 C603.43,89.00 605.33,89.50 607.40,89.40 C609.47,89.30 610.73,88.65 612.40,87.50 C614.07,86.35 616.15,83.65 617.40,82.50 C618.65,81.35 619.17,80.18 619.90,80.60 C620.63,81.02 621.17,81.57 621.80,85.00 C622.43,88.43 623.18,95.38 623.70,101.20 C624.22,107.02 624.55,114.28 624.90,119.90 C625.25,125.52 625.58,129.88 625.80,134.90 C626.02,139.92 626.07,146.33 626.20,150.00 C626.33,153.67 626.28,153.32 626.60,156.90 C626.92,160.48 627.25,167.12 628.10,171.50 C628.95,175.88 630.55,180.12 631.70,183.20 C632.85,186.28 634.02,187.82 635.00,190.00 C635.98,192.18 636.82,193.82 637.60,196.30 C638.38,198.78 639.03,202.53 639.70,204.90 C640.37,207.27 640.98,210.50 641.60,210.50 C642.22,210.50 642.68,207.48 643.40,204.90 C644.12,202.32 645.17,198.38 645.90,195.00 C646.63,191.62 647.03,187.87 647.80,184.60 C648.57,181.33 649.47,177.77 650.50,175.40 C651.53,173.03 652.93,171.35 654.00,170.40 C655.07,169.45 655.72,169.57 656.90,169.70 C658.08,169.83 659.47,170.37 661.10,171.20 C662.73,172.03 664.83,173.42 666.70,174.70 C668.57,175.98 670.43,177.38 672.30,178.90 C674.17,180.42 676.27,182.05 677.90,183.80 C679.53,185.55 681.08,188.03 682.10,189.40 C683.12,190.77 683.68,191.57 684.00,192.00" stroke="#10a010" stroke-width="1.60" fill="none" stroke-linejoin="round" stroke-linecap="round" />
<path d="M421.30,56.10 C421.97,56.62 423.92,58.03 425.30,59.20 C426.68,60.37 427.57,62.08 429.60,63.10 C431.63,64.12 434.00,64.35 437.50,65.30 C441.00,66.25 446.22,67.63 450.60,68.80 C454.98,69.97 460.00,71.32 463.80,72.30 C467.60,73.28 470.23,73.92 473.40,74.70 C476.57,75.48 479.68,76.30 482.80,77.00 C485.92,77.70 489.30,78.50 492.10,78.90 C494.90,79.30 497.25,79.63 499.60,79.40 C501.95,79.17 504.47,78.28 506.20,77.50 C507.93,76.72 508.75,76.17 510.00,74.70 C511.25,73.23 512.45,71.37 513.70,68.70 C514.95,66.03 516.45,62.25 517.50,58.70 C518.55,55.15 519.17,51.57 520.00,47.40 C520.83,43.23 521.67,38.07 522.50,33.70 C523.33,29.33 524.13,24.22 525.00,21.20 C525.87,18.18 526.77,16.02 527.70,15.60 C528.63,15.18 529.60,16.52 530.60,18.70 C531.60,20.88 532.57,25.15 533.70,28.70 C534.83,32.25 536.35,37.02 537.40,40.00 C538.45,42.98 538.95,44.80 540.00,46.60 C541.05,48.40 542.45,49.80 543.70,50.80 C544.95,51.80 546.40,52.53 547.50,52.60 C548.60,52.67 549.45,52.20 550.30,51.20 C551.15,50.20 551.98,48.15 552.60,46.60 C553.22,45.05 553.57,44.17 554.00,41.90 C554.43,39.63 554.88,35.40 555.20,33.00 C555.52,30.60 555.78,28.42 555.90,27.50" stroke="#1010f0" stroke-width="1.60" fill="none" stroke-linejoin="round" stroke-linecap="round" />
<path d="M555.90,27.50 C556.02,28.75 556.37,31.58 556.60,35.00 C556.83,38.42 557.10,44.05 557.30,48.00 C557.50,51.95 557.57,53.78 557.80,58.70 C558.03,63.62 558.38,70.62 558.70,77.50 C559.02,84.38 559.40,93.97 559.70,100.00 C560.00,106.03 560.18,109.20 560.50,113.70 C560.82,118.20 561.18,123.45 561.60,127.00 C562.02,130.55 562.43,132.83 563.00,135.00 C563.57,137.17 564.27,138.80 565.00,140.00 C565.73,141.20 565.32,141.58 567.40,142.20 C569.48,142.82 572.70,143.32 577.50,143.70 C582.30,144.08 591.47,144.30 596.20,144.50 C600.93,144.70 603.60,144.55 605.90,144.90 C608.20,145.25 608.37,145.70 610.00,146.60 C611.63,147.50 613.78,148.10 615.70,150.30 C617.62,152.50 619.57,156.02 621.50,159.80 C623.43,163.58 625.35,168.87 627.30,173.00 C629.25,177.13 631.55,180.93 633.20,184.60 C634.85,188.27 635.70,191.40 637.20,195.00 C638.70,198.60 640.75,202.07 642.20,206.20 C643.65,210.33 644.77,214.85 645.90,219.80 C647.03,224.75 648.07,230.93 649.00,235.90 C649.93,240.87 650.78,248.15 651.50,249.60 C652.22,251.05 652.58,247.92 653.30,244.60 C654.02,241.28 654.97,235.07 655.80,229.70 C656.63,224.33 657.47,218.18 658.30,212.40 C659.13,206.62 660.10,198.48 660.80,195.00 C661.50,191.52 661.63,193.13 662.50,191.50 C663.37,189.87 664.72,186.83 666.00,185.20 C667.28,183.57 668.68,182.23 670.20,181.70 C671.72,181.17 673.58,181.53 675.10,182.00 C676.62,182.47 678.13,183.85 679.30,184.50 C680.47,185.15 681.32,185.73 682.10,185.90 C682.88,186.07 683.68,185.57 684.00,185.50" stroke="#1010f0" stroke-width="1.60" fill="none" stroke-linejoin="round" stroke-linecap="round" />
</g>
<path d="M539.90,117.00 L541.36,120.39 L545.04,120.73 L542.26,123.17 L543.07,126.77 L539.90,124.88 L536.73,126.77 L537.54,123.17 L534.76,120.73 L538.44,120.39Z" fill="#00f0f0"/>
<path d="M555.90,21.40 L557.36,24.79 L561.04,25.13 L558.26,27.57 L559.07,31.17 L555.90,29.28 L552.73,31.17 L553.54,27.57 L550.76,25.13 L554.44,24.79Z" fill="#00f0f0"/>
<path d="M593.50,117.70 L594.96,121.09 L598.64,121.43 L595.86,123.87 L596.67,127.47 L593.50,125.58 L590.33,127.47 L591.14,123.87 L588.36,121.43 L592.04,121.09Z" fill="#00f0f0"/>
<path d="M619.80,75.60 L621.26,78.99 L624.94,79.33 L622.16,81.77 L622.97,85.37 L619.80,83.48 L616.63,85.37 L617.44,81.77 L614.66,79.33 L618.34,78.99Z" fill="#00f0f0"/>
<path d="M488.70,45.40 L488.70,55.30 M485.30,51.60 L488.70,55.60 L492.10,51.60" stroke="#000" stroke-width="1.70" fill="none" stroke-linejoin="miter"/>
<path d="M527.70,5.20 L527.70,14.70 M524.30,11.00 L527.70,15.00 L531.10,11.00" stroke="#000" stroke-width="1.70" fill="none" stroke-linejoin="miter"/>
<path d="M554.80,46.00 L554.80,55.10 M551.40,51.40 L554.80,55.40 L558.20,51.40" stroke="#000" stroke-width="1.70" fill="none" stroke-linejoin="miter"/>
<path d="M522.50,92.30 L522.50,102.40 M519.10,98.70 L522.50,102.70 L525.90,98.70" stroke="#000" stroke-width="1.70" fill="none" stroke-linejoin="miter"/>
<path d="M614.20,176.00 L614.20,166.70 M610.80,170.40 L614.20,166.40 L617.60,170.40" stroke="#000" stroke-width="1.70" fill="none" stroke-linejoin="miter"/>
<path d="M640.90,222.30 L640.90,212.70 M637.50,216.40 L640.90,212.40 L644.30,216.40" stroke="#000" stroke-width="1.70" fill="none" stroke-linejoin="miter"/>
<path d="M651.20,261.40 L651.20,251.80 M647.80,255.50 L651.20,251.50 L654.60,255.50" stroke="#000" stroke-width="1.70" fill="none" stroke-linejoin="miter"/>
<path d="M664.90,218.60 L664.90,208.90 M661.50,212.60 L664.90,208.60 L668.30,212.60" stroke="#000" stroke-width="1.70" fill="none" stroke-linejoin="miter"/>
<line x1="443" y1="195.20" x2="458.7" y2="195.20" stroke="#000" stroke-width="1.3"/>
<text class="th" x="465.4" y="199.30" font-family='"Liberation Serif", serif' font-size="12.9"><tspan font-style="italic" font-weight="bold">&#916;</tspan><tspan font-style="italic">=10</tspan> meV, <tspan font-style="italic">N</tspan><tspan font-style="italic">=10</tspan></text>
<line x1="443" y1="211.20" x2="458.7" y2="211.20" stroke="#f01010" stroke-width="1.3"/>
<text class="th" x="465.4" y="215.30" font-family='"Liberation Serif", serif' font-size="12.9"><tspan font-style="italic" font-weight="bold">&#916;</tspan><tspan font-style="italic">=40</tspan> meV, <tspan font-style="italic">N</tspan><tspan font-style="italic">=10</tspan></text>
<line x1="443" y1="227.20" x2="458.7" y2="227.20" stroke="#10a010" stroke-width="1.3"/>
<text class="th" x="465.4" y="231.30" font-family='"Liberation Serif", serif' font-size="12.9"><tspan font-style="italic" font-weight="bold">&#916;</tspan><tspan font-style="italic">=10</tspan> meV, <tspan font-style="italic">N</tspan><tspan font-style="italic">=20</tspan></text>
<line x1="443" y1="243.20" x2="458.7" y2="243.20" stroke="#1010f0" stroke-width="1.3"/>
<text class="th" x="465.4" y="247.30" font-family='"Liberation Serif", serif' font-size="12.9"><tspan font-style="italic" font-weight="bold">&#916;</tspan><tspan font-style="italic">=40</tspan> meV, <tspan font-style="italic">N</tspan><tspan font-style="italic">=20</tspan></text>
<text x="587.6" y="26.4" font-family='"Liberation Serif", serif' font-size="16" textLength="69" lengthAdjust="spacingAndGlyphs"><tspan font-style="italic">&#964;</tspan>=5&#183;10<tspan font-size="11.5" dy="-7">&#8722;14</tspan><tspan dy="7"> s</tspan></text>
<text x="507.40" y="300.60" font-family='"Liberation Serif", serif' font-size="21" font-style="italic">n</text>
<text x="518.40" y="304.10" font-family='"Liberation Serif", serif' font-size="15" font-style="italic">e</text>
<text x="531.20" y="300.60" font-family='"Liberation Serif", serif' font-size="21">(</text>
<text x="535.70" y="300.60" font-family='"Liberation Serif", serif' font-size="21" font-style="italic">10</text>
<text x="557.70" y="293.10" font-family='"Liberation Serif", serif' font-size="15" font-style="italic">12</text>
<text x="576.70" y="300.60" font-family='"Liberation Serif", serif' font-size="21">cm</text>
<text x="601.00" y="293.10" font-family='"Liberation Serif", serif' font-size="14">&#8722;2</text>
<text x="616.00" y="300.60" font-family='"Liberation Serif", serif' font-size="21">)</text>
<text x="362.20" y="21.90" font-family='"Liberation Sans", sans-serif' font-size="27.00" text-anchor="start" fill="#000" font-weight="bold" >b</text>
<text transform="translate(392.00,221.00) rotate(-90)" font-family='"Liberation Serif", serif' font-size="24.00" font-style="italic" >&#963;</text>
<text transform="translate(395.80,207.50) rotate(-90)" font-family='"Liberation Serif", serif' font-size="19.50" font-style="italic" >xy</text>
<line x1="373.2" y1="174.4" x2="397.5" y2="183.7" stroke="#000" stroke-width="1.15"/>
<text transform="translate(391.90,172.30) rotate(-90)" font-family='"Liberation Serif", serif' font-size="25.70" font-style="italic" >B</text>
<text transform="translate(395.70,154.50) rotate(-90)" font-family='"Liberation Serif", serif' font-size="17.50" font-style="italic" >z</text>
<path d="M363.4,122.3 Q385.3,148.3 407.2,122.3 Q385.3,145.0 363.4,122.3Z" stroke="#000" stroke-width="0.5" fill="#000"/>
<path d="M363.4,69.9 Q385.3,52.8 407.2,69.9 Q385.3,56.0 363.4,69.9Z" stroke="#000" stroke-width="0.5" fill="#000"/>
<text transform="translate(383.50,120.80) rotate(-90)" font-family='"Liberation Serif", serif' font-size="16.00" >e</text>
<text transform="translate(377.00,113.00) rotate(-90)" font-family='"Liberation Serif", serif' font-size="11.00" >2</text>
<line x1="385.4" y1="103.5" x2="385.4" y2="121" stroke="#000" stroke-width="0.9"/>
<text transform="translate(399.40,120.50) rotate(-90)" font-family='"Liberation Serif", serif' font-size="16.00" >h</text>
<line x1="373.7" y1="89.9" x2="396.9" y2="99.8" stroke="#000" stroke-width="1.15"/>
<text transform="translate(391.70,88.00) rotate(-90)" font-family='"Liberation Serif", serif' font-size="24.00" >T</text>
<defs><clipPath id="cc"><rect x="65.80" y="339.60" width="261.60" height="260.80"/></clipPath></defs>
<line x1="65.80" y1="513.60" x2="327.40" y2="513.60" stroke="#a0a0a0" stroke-width="1"/>
<rect x="65.80" y="339.60" width="261.60" height="260.80" fill="none" stroke="#9a9a9a" stroke-width="1.2"/>
<path d="M66.05,600.40 v-2.50 M66.05,339.60 v2.50 M76.50,600.40 v-2.50 M76.50,339.60 v2.50 M86.95,600.40 v-2.50 M86.95,339.60 v2.50 M97.40,600.40 v-4.00 M97.40,339.60 v4.00 M107.85,600.40 v-2.50 M107.85,339.60 v2.50 M118.30,600.40 v-2.50 M118.30,339.60 v2.50 M128.75,600.40 v-2.50 M128.75,339.60 v2.50 M139.20,600.40 v-2.50 M139.20,339.60 v2.50 M149.65,600.40 v-4.00 M149.65,339.60 v4.00 M160.10,600.40 v-2.50 M160.10,339.60 v2.50 M170.55,600.40 v-2.50 M170.55,339.60 v2.50 M181.00,600.40 v-2.50 M181.00,339.60 v2.50 M191.45,600.40 v-2.50 M191.45,339.60 v2.50 M201.90,600.40 v-4.00 M201.90,339.60 v4.00 M212.35,600.40 v-2.50 M212.35,339.60 v2.50 M222.80,600.40 v-2.50 M222.80,339.60 v2.50 M233.25,600.40 v-2.50 M233.25,339.60 v2.50 M243.70,600.40 v-2.50 M243.70,339.60 v2.50 M254.15,600.40 v-4.00 M254.15,339.60 v4.00 M264.60,600.40 v-2.50 M264.60,339.60 v2.50 M275.05,600.40 v-2.50 M275.05,339.60 v2.50 M285.50,600.40 v-2.50 M285.50,339.60 v2.50 M295.95,600.40 v-2.50 M295.95,339.60 v2.50 M306.40,600.40 v-4.00 M306.40,339.60 v4.00 M316.85,600.40 v-2.50 M316.85,339.60 v2.50 M327.30,600.40 v-2.50 M327.30,339.60 v2.50" stroke="#555" stroke-width="0.9" fill="none"/>
<path d="M65.80,600.30 h4.00 M327.40,600.30 h-4.00 M65.80,591.61 h2.50 M327.40,591.61 h-2.50 M65.80,582.92 h2.50 M327.40,582.92 h-2.50 M65.80,574.23 h2.50 M327.40,574.23 h-2.50 M65.80,565.54 h2.50 M327.40,565.54 h-2.50 M65.80,556.85 h4.00 M327.40,556.85 h-4.00 M65.80,548.16 h2.50 M327.40,548.16 h-2.50 M65.80,539.47 h2.50 M327.40,539.47 h-2.50 M65.80,530.78 h2.50 M327.40,530.78 h-2.50 M65.80,522.09 h2.50 M327.40,522.09 h-2.50 M65.80,513.40 h4.00 M327.40,513.40 h-4.00 M65.80,504.71 h2.50 M327.40,504.71 h-2.50 M65.80,496.02 h2.50 M327.40,496.02 h-2.50 M65.80,487.33 h2.50 M327.40,487.33 h-2.50 M65.80,478.64 h2.50 M327.40,478.64 h-2.50 M65.80,469.95 h4.00 M327.40,469.95 h-4.00 M65.80,461.26 h2.50 M327.40,461.26 h-2.50 M65.80,452.57 h2.50 M327.40,452.57 h-2.50 M65.80,443.88 h2.50 M327.40,443.88 h-2.50 M65.80,435.19 h2.50 M327.40,435.19 h-2.50 M65.80,426.50 h4.00 M327.40,426.50 h-4.00 M65.80,417.81 h2.50 M327.40,417.81 h-2.50 M65.80,409.12 h2.50 M327.40,409.12 h-2.50 M65.80,400.43 h2.50 M327.40,400.43 h-2.50 M65.80,391.74 h2.50 M327.40,391.74 h-2.50 M65.80,383.05 h4.00 M327.40,383.05 h-4.00 M65.80,374.36 h2.50 M327.40,374.36 h-2.50 M65.80,365.67 h2.50 M327.40,365.67 h-2.50 M65.80,356.98 h2.50 M327.40,356.98 h-2.50 M65.80,348.29 h2.50 M327.40,348.29 h-2.50 M65.80,339.60 h4.00 M327.40,339.60 h-4.00" stroke="#555" stroke-width="0.9" fill="none"/>
<text x="97.40" y="617.00" font-family='"Liberation Serif", serif' font-size="17.00" text-anchor="middle" fill="#000" >&#8722;10</text>
<text x="149.65" y="617.00" font-family='"Liberation Serif", serif' font-size="17.00" text-anchor="middle" fill="#000" >&#8722;5</text>
<text x="201.90" y="617.00" font-family='"Liberation Serif", serif' font-size="17.00" text-anchor="middle" fill="#000" >0</text>
<text x="254.15" y="617.00" font-family='"Liberation Serif", serif' font-size="17.00" text-anchor="middle" fill="#000" >5</text>
<text x="306.40" y="617.00" font-family='"Liberation Serif", serif' font-size="17.00" text-anchor="middle" fill="#000" >10</text>
<text x="63.30" y="605.50" font-family='"Liberation Serif", serif' font-size="17.00" text-anchor="end" fill="#000" >&#8722;10</text>
<text x="63.30" y="562.05" font-family='"Liberation Serif", serif' font-size="17.00" text-anchor="end" fill="#000" >&#8722;5</text>
<text x="63.30" y="518.60" font-family='"Liberation Serif", serif' font-size="17.00" text-anchor="end" fill="#000" >0</text>
<text x="63.30" y="475.15" font-family='"Liberation Serif", serif' font-size="17.00" text-anchor="end" fill="#000" >5</text>
<text x="63.30" y="431.70" font-family='"Liberation Serif", serif' font-size="17.00" text-anchor="end" fill="#000" >10</text>
<text x="63.30" y="388.25" font-family='"Liberation Serif", serif' font-size="17.00" text-anchor="end" fill="#000" >15</text>
<text x="63.30" y="344.80" font-family='"Liberation Serif", serif' font-size="17.00" text-anchor="end" fill="#000" >20</text>
<g clip-path="url(#cc)">
<path d="M73.30,366.20 C74.98,366.90 78.95,368.00 83.40,370.40 C87.85,372.80 95.28,377.73 100.00,380.60 C104.72,383.47 107.80,385.07 111.70,387.60 C115.60,390.13 119.52,393.08 123.40,395.80 C127.28,398.52 131.12,401.37 135.00,403.90 C138.88,406.43 143.18,409.15 146.70,411.00 C150.22,412.85 153.77,414.62 156.10,415.00 C158.43,415.38 159.15,414.85 160.70,413.30 C162.25,411.75 163.60,408.33 165.40,405.70 C167.20,403.07 169.75,397.88 171.50,397.50 C173.25,397.12 174.48,400.65 175.90,403.40 C177.32,406.15 178.65,410.82 180.00,414.00 C181.35,417.18 182.75,419.83 184.00,422.50 C185.25,425.17 186.10,427.10 187.50,430.00 C188.90,432.90 190.95,437.00 192.40,439.90 C193.85,442.80 195.05,445.93 196.20,447.40 C197.35,448.87 198.57,448.07 199.30,448.70 C200.03,449.33 200.28,449.32 200.60,451.20 C200.92,453.08 201.00,455.00 201.20,460.00 C201.40,465.00 201.38,475.58 201.80,481.20 C202.22,486.82 202.97,489.75 203.70,493.70 C204.43,497.65 205.15,501.98 206.20,504.90 C207.25,507.82 208.75,509.85 210.00,511.20 C211.25,512.55 211.42,512.55 213.70,513.00 C215.98,513.45 218.38,513.60 223.70,513.90 C229.02,514.20 240.38,514.43 245.60,514.80 C250.82,515.17 252.13,515.05 255.00,516.10 C257.87,517.15 260.20,518.85 262.80,521.10 C265.40,523.35 268.00,526.75 270.60,529.60 C273.20,532.45 276.07,535.33 278.40,538.20 C280.73,541.07 282.78,543.55 284.60,546.80 C286.42,550.05 288.00,554.07 289.30,557.70 C290.60,561.33 291.42,565.78 292.40,568.60 C293.38,571.42 294.17,574.33 295.20,574.60 C296.23,574.87 297.25,571.77 298.60,570.20 C299.95,568.63 301.73,565.58 303.30,565.20 C304.87,564.82 306.18,566.03 308.00,567.90 C309.82,569.77 311.87,573.15 314.20,576.40 C316.53,579.65 320.70,585.57 322.00,587.40" stroke="#1010f0" stroke-width="1.60" fill="none" stroke-linejoin="round" stroke-linecap="round" />
<path d="M73.30,366.20 C74.98,366.90 78.95,367.90 83.40,370.40 C87.85,372.90 95.28,378.13 100.00,381.20 C104.72,384.27 107.80,386.08 111.70,388.80 C115.60,391.52 119.52,394.40 123.40,397.50 C127.28,400.60 131.12,404.08 135.00,407.40 C138.88,410.72 143.38,414.57 146.70,417.40 C150.02,420.23 152.37,422.75 154.90,424.40 C157.43,426.05 159.37,426.72 161.90,427.30 C164.43,427.88 167.95,427.22 170.10,427.90 C172.25,428.58 173.15,429.65 174.80,431.40 C176.45,433.15 178.47,436.05 180.00,438.40 C181.53,440.75 182.75,443.27 184.00,445.50 C185.25,447.73 186.08,448.97 187.50,451.80 C188.92,454.63 191.05,458.63 192.50,462.50 C193.95,466.37 194.95,470.83 196.20,475.00 C197.45,479.17 198.95,482.93 200.00,487.50 C201.05,492.07 201.67,499.08 202.50,502.40 C203.33,505.72 203.75,505.93 205.00,507.40 C206.25,508.87 208.55,510.30 210.00,511.20 C211.45,512.10 211.42,512.37 213.70,512.80 C215.98,513.23 219.32,513.53 223.70,513.80 C228.08,514.07 235.05,514.23 240.00,514.40 C244.95,514.57 249.87,514.47 253.40,514.80 C256.93,515.13 258.60,515.62 261.20,516.40 C263.80,517.18 266.40,518.47 269.00,519.50 C271.60,520.53 274.20,521.30 276.80,522.60 C279.40,523.90 282.52,525.73 284.60,527.30 C286.68,528.87 287.73,529.92 289.30,532.00 C290.87,534.08 292.45,537.60 294.00,539.80 C295.55,542.00 297.05,543.00 298.60,545.20 C300.15,547.40 301.73,550.13 303.30,553.00 C304.87,555.87 306.18,558.75 308.00,562.40 C309.82,566.05 311.87,570.73 314.20,574.90 C316.53,579.07 320.70,585.32 322.00,587.40" stroke="#f01010" stroke-width="1.60" fill="none" stroke-linejoin="round" stroke-linecap="round" />
<path d="M64.70,353.30 C65.48,354.33 67.97,357.35 69.40,359.50 C70.83,361.65 72.65,365.08 73.30,366.20" stroke="#10a010" stroke-width="1.60" fill="none" stroke-linejoin="round" stroke-linecap="round" />
<path d="M73.30,366.20 C74.98,366.90 78.95,367.90 83.40,370.40 C87.85,372.90 95.28,378.05 100.00,381.20 C104.72,384.35 107.80,386.48 111.70,389.30 C115.60,392.12 119.52,394.88 123.40,398.10 C127.28,401.32 131.12,405.00 135.00,408.60 C138.88,412.20 143.18,416.48 146.70,419.70 C150.22,422.92 153.17,425.57 156.10,427.90 C159.03,430.23 161.38,431.75 164.30,433.70 C167.22,435.65 171.32,437.80 173.60,439.60 C175.88,441.40 176.52,442.68 178.00,444.50 C179.48,446.32 180.92,448.00 182.50,450.50 C184.08,453.00 185.83,455.83 187.50,459.50 C189.17,463.17 191.05,468.05 192.50,472.50 C193.95,476.95 194.95,481.22 196.20,486.20 C197.45,491.18 198.95,498.97 200.00,502.40 C201.05,505.83 201.25,505.45 202.50,506.80 C203.75,508.15 205.63,509.57 207.50,510.50 C209.37,511.43 211.00,511.87 213.70,512.40 C216.40,512.93 219.32,513.38 223.70,513.70 C228.08,514.02 233.75,514.03 240.00,514.30 C246.25,514.57 256.37,514.95 261.20,515.30 C266.03,515.65 266.40,515.97 269.00,516.40 C271.60,516.83 274.20,517.18 276.80,517.90 C279.40,518.62 282.13,519.52 284.60,520.70 C287.07,521.88 289.65,523.25 291.60,525.00 C293.55,526.75 294.87,528.60 296.30,531.20 C297.73,533.80 298.77,536.97 300.20,540.60 C301.63,544.23 303.33,549.12 304.90,553.00 C306.47,556.88 307.78,560.00 309.60,563.90 C311.42,567.80 313.73,572.48 315.80,576.40 C317.87,580.32 320.97,585.57 322.00,587.40" stroke="#10a010" stroke-width="1.60" fill="none" stroke-linejoin="round" stroke-linecap="round" />
</g>
<line x1="84.2" y1="533.90" x2="100.4" y2="533.90" stroke="#1010f0" stroke-width="1.3"/>
<text x="115.5" y="537.70" font-family='"Liberation Serif", serif' font-size="14.5" textLength="52.2" lengthAdjust="spacingAndGlyphs"><tspan font-style="italic">&#964;</tspan>=10<tspan font-size="10.5" dy="-6">&#8722;13</tspan><tspan dy="6">s</tspan></text>
<line x1="84.2" y1="557.30" x2="100.4" y2="557.30" stroke="#f01010" stroke-width="1.3"/>
<text x="115.5" y="561.10" font-family='"Liberation Serif", serif' font-size="14.5" textLength="67.4" lengthAdjust="spacingAndGlyphs"><tspan font-style="italic">&#964;</tspan>=2&#215;10<tspan font-size="10.5" dy="-6">&#8722;13</tspan><tspan dy="6">s</tspan></text>
<line x1="84.2" y1="580.70" x2="100.4" y2="580.70" stroke="#10a010" stroke-width="1.3"/>
<text x="115.5" y="584.50" font-family='"Liberation Serif", serif' font-size="14.5" textLength="52.2" lengthAdjust="spacingAndGlyphs"><tspan font-style="italic">&#964;</tspan>=10<tspan font-size="10.5" dy="-6">&#8722;12</tspan><tspan dy="6">s</tspan></text>
<text x="163.3" y="362.5" font-family='"Liberation Serif", serif' font-size="15" textLength="113.5" lengthAdjust="spacingAndGlyphs"><tspan font-style="italic">&#916;</tspan>=40 meV, <tspan font-style="italic">N</tspan>=20</text>
<text x="143.80" y="637.40" font-family='"Liberation Serif", serif' font-size="21" font-style="italic">n</text>
<text x="154.80" y="640.90" font-family='"Liberation Serif", serif' font-size="15" font-style="italic">e</text>
<text x="167.60" y="637.40" font-family='"Liberation Serif", serif' font-size="21">(</text>
<text x="172.10" y="637.40" font-family='"Liberation Serif", serif' font-size="21" font-style="italic">10</text>
<text x="194.10" y="629.90" font-family='"Liberation Serif", serif' font-size="15" font-style="italic">12</text>
<text x="213.10" y="637.40" font-family='"Liberation Serif", serif' font-size="21">cm</text>
<text x="237.40" y="629.90" font-family='"Liberation Serif", serif' font-size="14">&#8722;2</text>
<text x="252.40" y="637.40" font-family='"Liberation Serif", serif' font-size="21">)</text>
<text x="-1.60" y="349.60" font-family='"Liberation Sans", sans-serif' font-size="27.00" text-anchor="start" fill="#000" font-weight="bold" >c</text>
<text transform="translate(16.80,576.30) rotate(-90)" font-family='"Liberation Serif", serif' font-size="17.00" font-style="italic" >&#963;</text>
<text transform="translate(20.50,565.00) rotate(-90)" font-family='"Liberation Serif", serif' font-size="12.00" font-style="italic" >xy</text>
<line x1="23" y1="542.8" x2="23" y2="578.7" stroke="#000" stroke-width="0.9"/>
<text transform="translate(38.20,576.50) rotate(-90)" font-family='"Liberation Serif", serif' font-size="17.50" font-style="italic" >B</text>
<text transform="translate(37.00,562.50) rotate(-90)" font-family='"Liberation Serif", serif' font-size="13.00" font-style="italic" >&#964;</text>
<text transform="translate(32.00,553.50) rotate(-90)" font-family='"Liberation Serif", serif' font-size="11.50" >2</text>
<path d="M2.3,520.7 Q23.35,539.6 44.4,520.7 Q23.35,536.4 2.3,520.7Z" stroke="#000" stroke-width="0.5" fill="#000"/>
<path d="M2.2,389.7 Q24,370.3 45.9,389.7 Q24,373.4 2.2,389.7Z" stroke="#000" stroke-width="0.5" fill="#000"/>
<text transform="translate(30.20,520.00) rotate(-90)" font-family='"Liberation Serif", serif' font-size="24.00" >10</text>
<text transform="translate(21.00,497.50) rotate(-90)" font-family='"Liberation Serif", serif' font-size="17.50" >26</text>
<text transform="translate(20.90,475.80) rotate(-90)" font-family='"Liberation Serif", serif' font-size="17.50" >e</text>
<text transform="translate(12.00,466.80) rotate(-90)" font-family='"Liberation Serif", serif' font-size="12.00" >2</text>
<line x1="22.8" y1="456.9" x2="22.8" y2="473.9" stroke="#000" stroke-width="0.9"/>
<text transform="translate(37.90,469.60) rotate(-90)" font-family='"Liberation Serif", serif' font-size="18.50" >h</text>
<line x1="10.9" y1="441.5" x2="34.9" y2="451.3" stroke="#000" stroke-width="1.15"/>
<text transform="translate(29.50,440.00) rotate(-90)" font-family='"Liberation Serif", serif' font-size="24.00" >T</text>
<line x1="10.9" y1="412" x2="34.9" y2="421.8" stroke="#000" stroke-width="1.15"/>
<text transform="translate(29.50,411.50) rotate(-90)" font-family='"Liberation Serif", serif' font-size="24.00" >s</text>
<text transform="translate(18.60,400.50) rotate(-90)" font-family='"Liberation Serif", serif' font-size="14.00" >2</text>
<rect x="422.10" y="338.60" width="260.30" height="254.60" fill="none" stroke="#9a9a9a" stroke-width="1.2"/>
<path d="M426.50,593.20 v-4.00 M426.50,338.60 v4.00 M442.18,593.20 v-2.50 M442.18,338.60 v2.50 M457.85,593.20 v-2.50 M457.85,338.60 v2.50 M473.52,593.20 v-2.50 M473.52,338.60 v2.50 M489.20,593.20 v-4.00 M489.20,338.60 v4.00 M504.88,593.20 v-2.50 M504.88,338.60 v2.50 M520.55,593.20 v-2.50 M520.55,338.60 v2.50 M536.23,593.20 v-2.50 M536.23,338.60 v2.50 M551.90,593.20 v-4.00 M551.90,338.60 v4.00 M567.58,593.20 v-2.50 M567.58,338.60 v2.50 M583.25,593.20 v-2.50 M583.25,338.60 v2.50 M598.92,593.20 v-2.50 M598.92,338.60 v2.50 M614.60,593.20 v-4.00 M614.60,338.60 v4.00 M630.27,593.20 v-2.50 M630.27,338.60 v2.50 M645.95,593.20 v-2.50 M645.95,338.60 v2.50 M661.62,593.20 v-2.50 M661.62,338.60 v2.50 M677.30,593.20 v-4.00 M677.30,338.60 v4.00" stroke="#555" stroke-width="0.9" fill="none"/>
<path d="M422.10,580.50 h4.00 M682.40,580.50 h-4.00 M422.10,568.09 h2.50 M682.40,568.09 h-2.50 M422.10,555.68 h2.50 M682.40,555.68 h-2.50 M422.10,543.27 h2.50 M682.40,543.27 h-2.50 M422.10,530.86 h2.50 M682.40,530.86 h-2.50 M422.10,518.45 h4.00 M682.40,518.45 h-4.00 M422.10,506.04 h2.50 M682.40,506.04 h-2.50 M422.10,493.63 h2.50 M682.40,493.63 h-2.50 M422.10,481.22 h2.50 M682.40,481.22 h-2.50 M422.10,468.81 h2.50 M682.40,468.81 h-2.50 M422.10,456.40 h4.00 M682.40,456.40 h-4.00 M422.10,443.99 h2.50 M682.40,443.99 h-2.50 M422.10,431.58 h2.50 M682.40,431.58 h-2.50 M422.10,419.17 h2.50 M682.40,419.17 h-2.50 M422.10,406.76 h2.50 M682.40,406.76 h-2.50 M422.10,394.35 h4.00 M682.40,394.35 h-4.00 M422.10,381.94 h2.50 M682.40,381.94 h-2.50 M422.10,369.53 h2.50 M682.40,369.53 h-2.50 M422.10,357.12 h2.50 M682.40,357.12 h-2.50 M422.10,344.71 h2.50 M682.40,344.71 h-2.50" stroke="#555" stroke-width="0.9" fill="none"/>
<text x="426.50" y="609.50" font-family='"Liberation Serif", serif' font-size="17.00" text-anchor="middle" fill="#000" >0</text>
<text x="489.20" y="609.50" font-family='"Liberation Serif", serif' font-size="17.00" text-anchor="middle" fill="#000" >20</text>
<text x="551.90" y="609.50" font-family='"Liberation Serif", serif' font-size="17.00" text-anchor="middle" fill="#000" >40</text>
<text x="614.60" y="609.50" font-family='"Liberation Serif", serif' font-size="17.00" text-anchor="middle" fill="#000" >60</text>
<text x="677.30" y="609.50" font-family='"Liberation Serif", serif' font-size="17.00" text-anchor="middle" fill="#000" >80</text>
<text x="419.50" y="585.70" font-family='"Liberation Serif", serif' font-size="17.00" text-anchor="end" fill="#000" >0.0</text>
<text x="419.50" y="523.65" font-family='"Liberation Serif", serif' font-size="17.00" text-anchor="end" fill="#000" >0.1</text>
<text x="419.50" y="461.60" font-family='"Liberation Serif", serif' font-size="17.00" text-anchor="end" fill="#000" >0.2</text>
<text x="419.50" y="399.55" font-family='"Liberation Serif", serif' font-size="17.00" text-anchor="end" fill="#000" >0.3</text>
<path d="M524.50,351.10 C524.97,352.27 526.48,353.43 527.30,358.10 C528.12,362.77 528.75,372.08 529.40,379.10 C530.05,386.12 530.62,393.38 531.20,400.20 C531.78,407.02 532.12,411.50 532.90,420.00 C533.68,428.50 535.40,446.00 535.90,451.20  L535.90,451.24 L538.30,466.23 L540.70,475.79 L543.10,482.85 L545.50,488.45 L547.90,493.10 L550.30,497.07 L552.70,500.54 L555.10,503.62 L557.50,506.39 L559.90,508.91 L562.30,511.21 L564.70,513.34 L567.10,515.31 L569.50,517.15 L571.90,518.88 L574.30,520.50 L576.70,522.04 L579.10,523.49 L581.50,524.87 L583.90,526.19 L586.30,527.44 L588.70,528.64 L591.10,529.79 L593.50,530.89 L595.90,531.95 L598.30,532.97 L600.70,533.96 L603.10,534.91 L605.50,535.83 L607.90,536.72 L610.30,537.58 L612.70,538.41 L615.10,539.22 L617.50,540.01 L619.90,540.77 L622.30,541.52 L624.70,542.24 L627.10,542.95 L629.50,543.64 L631.90,544.31 L634.30,544.96 L636.70,545.60 L639.10,546.23 L641.50,546.84 L643.90,547.44 L646.30,548.02 L648.70,548.59 L651.10,549.15 L653.50,549.70 L655.90,550.24 L658.30,550.77 L660.70,551.29 L663.10,551.80 L665.50,552.29 L667.90,552.79 L670.30,553.27 L672.70,553.74 L675.10,554.20 L677.50,554.66" stroke="#1010f0" stroke-width="1.6" fill="none" stroke-linejoin="round" stroke-linecap="round"/>
<path d="M426.50,580.40 C438.08,580.38 483.75,580.38 496.00,580.30 C508.25,580.22 498.83,580.20 500.00,579.90 C501.17,579.60 502.17,579.40 503.00,578.50 C503.83,577.60 504.18,577.97 505.00,574.50 C505.82,571.03 507.08,563.77 507.90,557.70 C508.72,551.63 509.25,547.87 509.90,538.10 C510.55,528.33 511.22,510.12 511.80,499.10 C512.38,488.08 512.87,480.18 513.40,472.00 C513.93,463.82 514.32,458.67 515.00,450.00 C515.68,441.33 516.85,428.30 517.50,420.00 C518.15,411.70 518.43,407.02 518.90,400.20 C519.37,393.38 519.72,386.12 520.30,379.10 C520.88,372.08 521.70,362.77 522.40,358.10 C523.10,353.43 524.15,352.27 524.50,351.10" stroke="#1010f0" stroke-width="1.60" fill="none" stroke-linejoin="round" stroke-linecap="round" />
<path d="M426.50,580.40 C439.58,580.37 490.58,580.28 505.00,580.20 C519.42,580.12 511.22,580.02 513.00,579.90 C514.78,579.78 514.75,580.60 515.70,579.50 C516.65,578.40 517.88,576.28 518.70,573.30 C519.52,570.32 519.95,566.17 520.60,561.60 C521.25,557.03 521.95,550.78 522.60,545.90 C523.25,541.02 523.68,535.87 524.50,532.30 C525.32,528.73 526.52,527.43 527.50,524.50 C528.48,521.57 529.43,518.93 530.40,514.70 C531.37,510.47 532.32,504.63 533.30,499.10 C534.28,493.57 535.58,485.42 536.30,481.50 C537.02,477.58 537.38,476.58 537.60,475.60" stroke="#f01010" stroke-width="1.60" fill="none" stroke-linejoin="round" stroke-linecap="round" />
<path d="M537.60,475.60 C537.87,476.58 538.45,477.58 539.20,481.50 C539.95,485.42 541.62,496.17 542.10,499.10 L542.10,498.85 L544.39,509.47 L546.69,515.53 L548.98,519.71 L551.28,522.90 L553.57,525.48 L555.87,527.64 L558.16,529.50 L560.46,531.14 L562.75,532.61 L565.05,533.94 L567.34,535.15 L569.64,536.28 L571.93,537.32 L574.23,538.29 L576.52,539.21 L578.82,540.07 L581.11,540.89 L583.41,541.67 L585.70,542.41 L588.00,543.12 L590.29,543.80 L592.59,544.46 L594.88,545.09 L597.18,545.70 L599.47,546.28 L601.77,546.85 L604.06,547.40 L606.36,547.93 L608.65,548.45 L610.95,548.96 L613.24,549.45 L615.54,549.92 L617.83,550.39 L620.13,550.85 L622.42,551.29 L624.72,551.72 L627.01,552.15 L629.31,552.57 L631.60,552.97 L633.90,553.37 L636.19,553.76 L638.49,554.15 L640.78,554.53 L643.08,554.90 L645.37,555.26 L647.67,555.62 L649.96,555.97 L652.26,556.32 L654.55,556.66 L656.85,556.99 L659.14,557.32 L661.44,557.65 L663.73,557.97 L666.03,558.28 L668.32,558.59 L670.62,558.90 L672.91,559.20 L675.21,559.50 L677.50,559.80" stroke="#f01010" stroke-width="1.6" fill="none" stroke-linejoin="round" stroke-linecap="round"/>
<path d="M524.50,341.20 L524.50,350.70 M521.70,347.50 L524.50,351.00 L527.30,347.50" stroke="#000" stroke-width="1.50" fill="none" stroke-linejoin="miter"/>
<path d="M537.20,465.20 L537.20,475.20 M534.40,472.00 L537.20,475.50 L540.00,472.00" stroke="#000" stroke-width="1.50" fill="none" stroke-linejoin="miter"/>
<path d="M458.9,518.9 L498.5,574.5 M458.9,518.9 L513,575.5" stroke="#333" stroke-width="0.7" fill="none"/>
<path d="M501.00,579.20 L492.61,573.47 L498.51,569.35 Z M516.60,579.70 L507.45,575.29 L512.67,570.33 Z" fill="#000"/>
<text x="441.7" y="515" font-family='"Liberation Serif", serif' font-size="19.5" font-style="italic" textLength="26.5" lengthAdjust="spacingAndGlyphs">&#295;&#969;</text>
<path d="M472.80,515.00 L472.80,512.10 M472.80,515.00 L475.31,513.55 M472.80,515.00 L475.31,516.45 M472.80,515.00 L472.80,517.90 M472.80,515.00 L470.29,516.45 M472.80,515.00 L470.29,513.55" stroke="#000" stroke-width="1.4" stroke-linecap="round" fill="none"/>
<text x="561.2" y="359.7" font-family='"Liberation Serif", serif' font-size="17" font-style="italic" font-weight="bold">&#916;</text>
<text x="571.8" y="359.7" font-family='"Liberation Serif", serif' font-size="17" textLength="29.6" lengthAdjust="spacingAndGlyphs">=40</text>
<text x="608.9" y="359.7" font-family='"Liberation Serif", serif' font-size="17" textLength="37" lengthAdjust="spacingAndGlyphs">meV</text>
<line x1="552.7" y1="387.6" x2="569.7" y2="387.6" stroke="#1010f0" stroke-width="1.3"/>
<line x1="552.7" y1="413" x2="569.7" y2="413" stroke="#f01010" stroke-width="1.3"/>
<text x="580.3" y="391.4" font-family='"Liberation Serif", serif' font-size="19" font-style="italic">N</text>
<text x="594.5" y="391.4" font-family='"Liberation Serif", serif' font-size="19" textLength="30.2" lengthAdjust="spacingAndGlyphs">=20</text>
<text x="580.3" y="416.9" font-family='"Liberation Serif", serif' font-size="19" font-style="italic">N</text>
<text x="594.5" y="416.9" font-family='"Liberation Serif", serif' font-size="19" textLength="30.2" lengthAdjust="spacingAndGlyphs">=10</text>
<text x="504.5" y="635.5" font-family='"Liberation Serif", serif' font-size="21" textLength="95" lengthAdjust="spacingAndGlyphs"><tspan font-style="italic" font-weight="bold">&#295;&#969;</tspan> (meV)</text>
<text x="387.7" y="465.7" font-family='"Liberation Serif", serif' font-size="22" transform="rotate(-90 387.7 465.7)" text-anchor="middle">g</text>
<text x="362.40" y="350.50" font-family='"Liberation Sans", sans-serif' font-size="27.00" text-anchor="start" fill="#000" font-weight="bold" >d</text>
</svg>
</body></html>
